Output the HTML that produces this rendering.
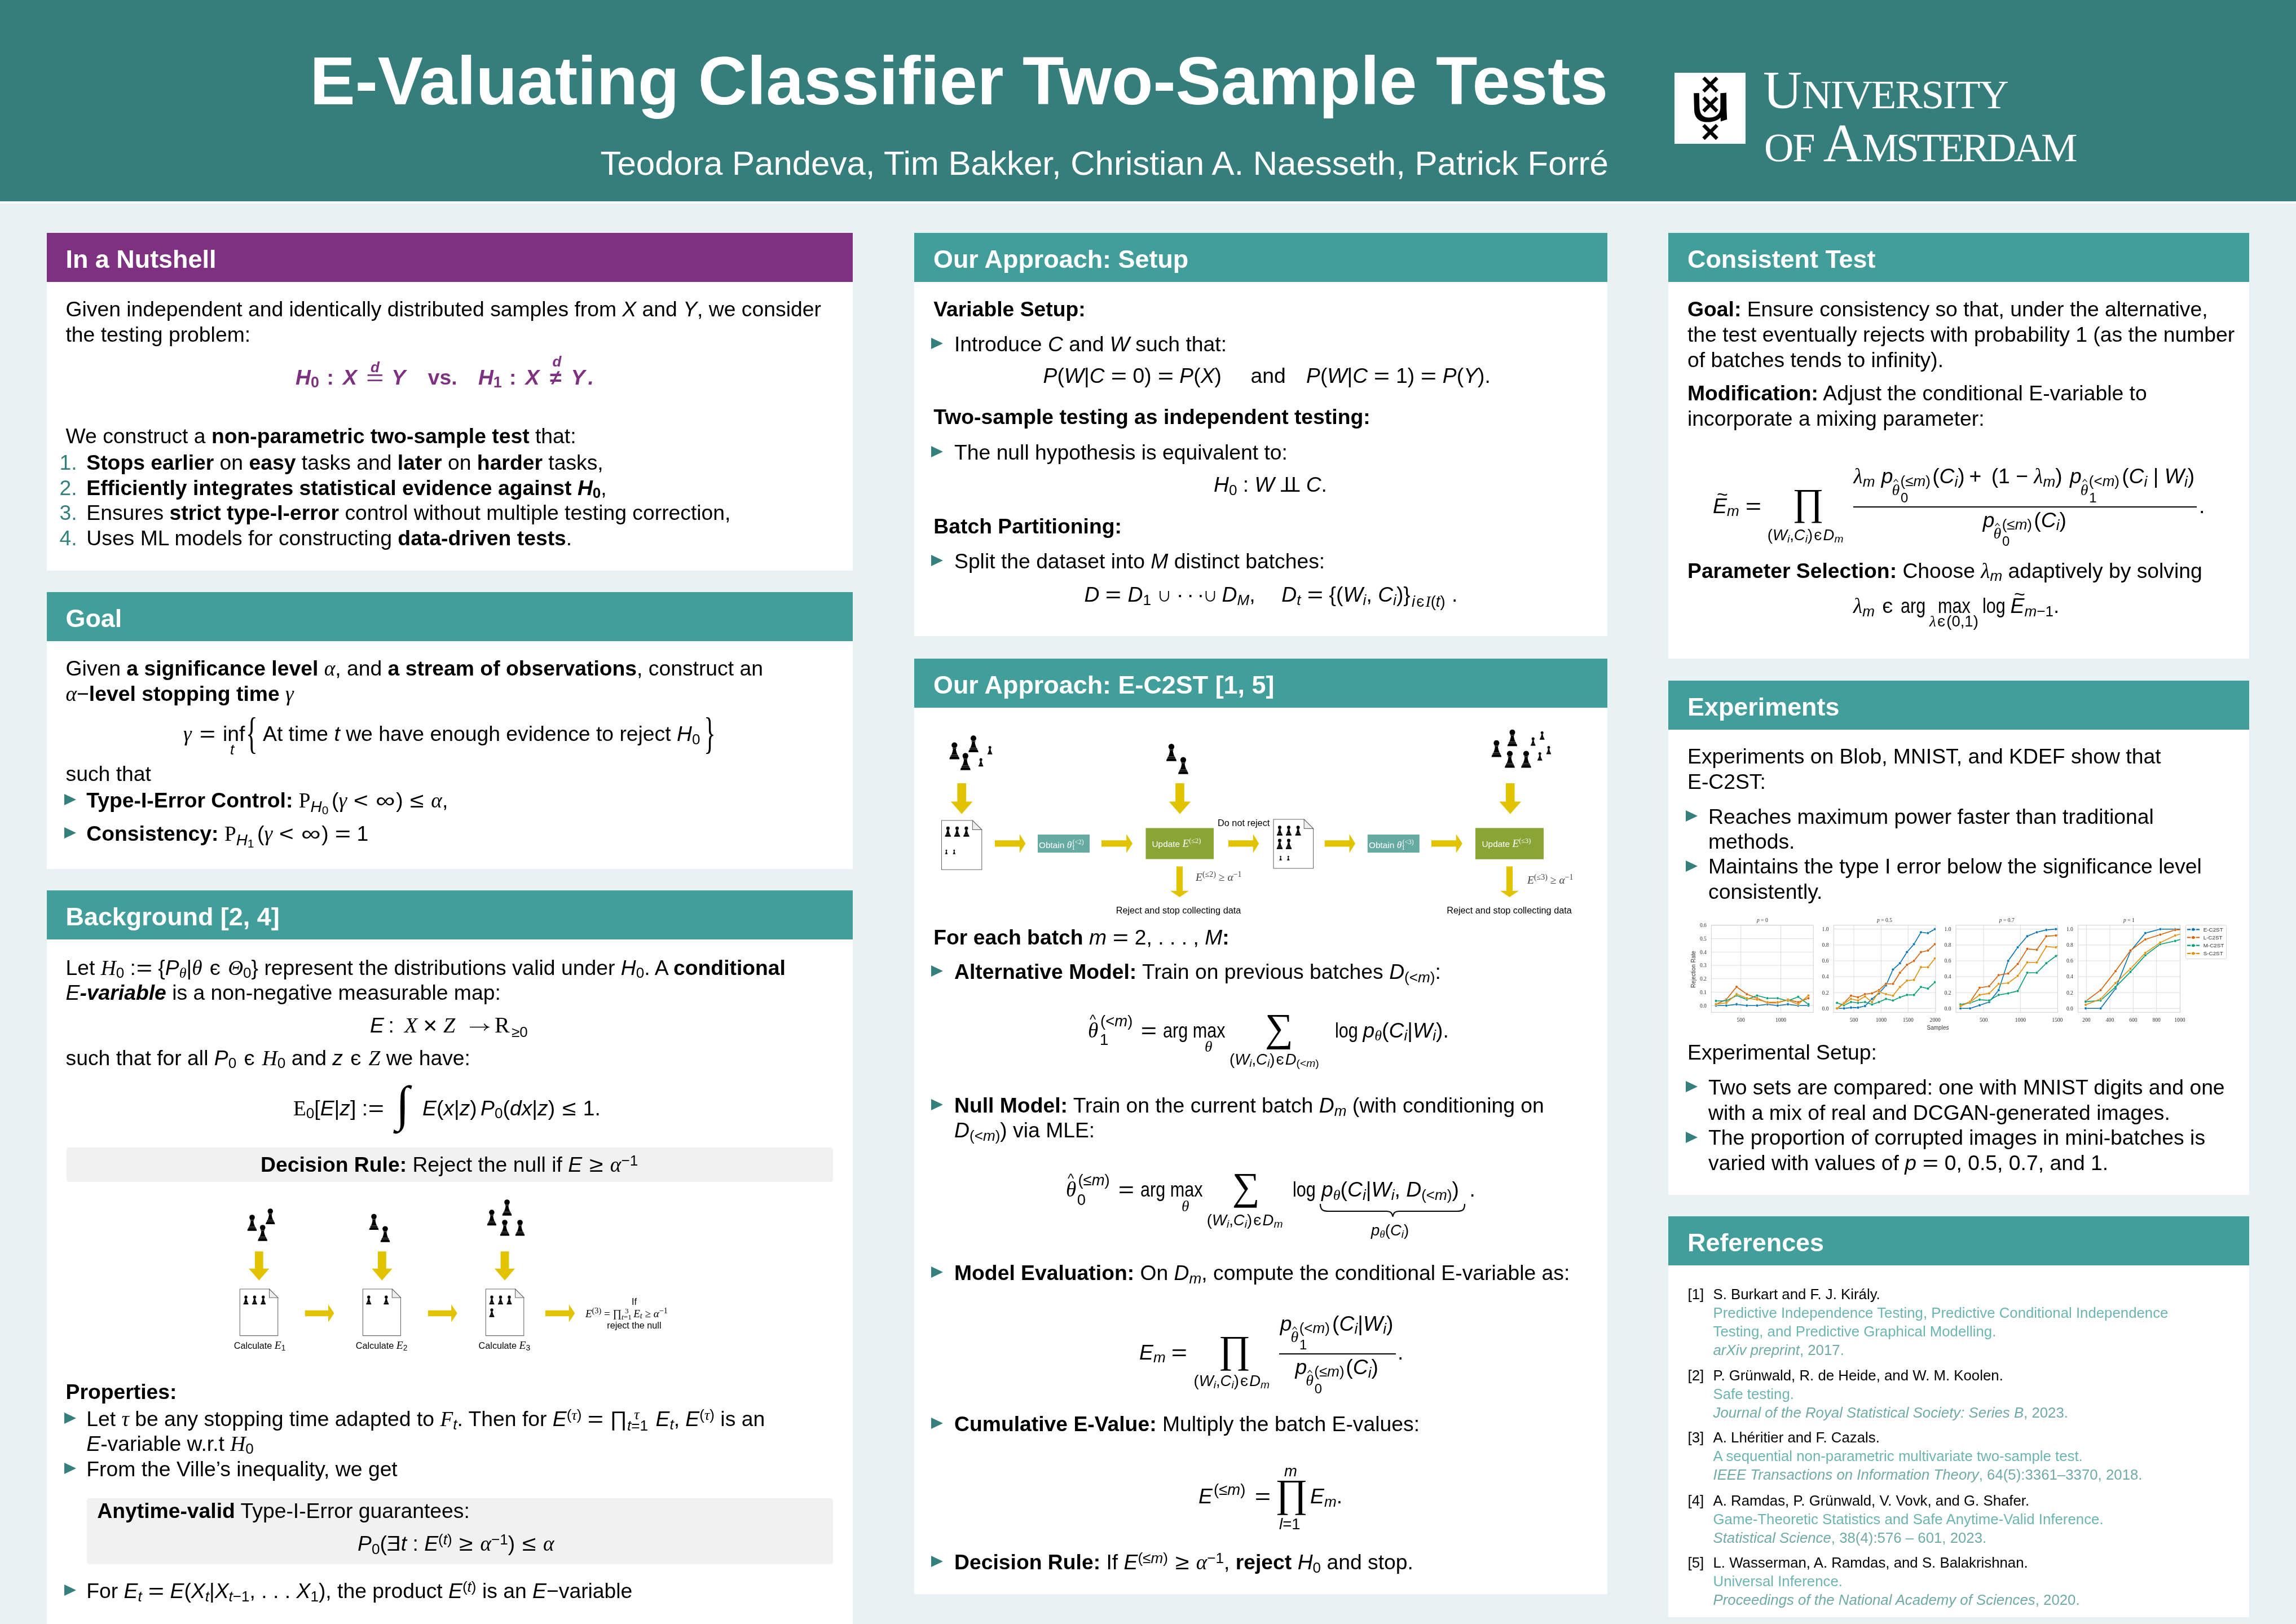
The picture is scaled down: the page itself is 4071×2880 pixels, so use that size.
<!DOCTYPE html>
<html><head><meta charset="utf-8"><title>E-Valuating Classifier Two-Sample Tests</title>
<style>
*{margin:0;padding:0;box-sizing:border-box}
html,body{width:4071px;height:2880px;overflow:hidden;background:#e9f2f3}
body{position:relative;font-family:'Liberation Sans',sans-serif;color:#000}
.t{position:absolute;white-space:nowrap;line-height:0}
/*AAFIX*/#wrap{position:absolute;left:0;top:0;width:4071px;height:2880px;will-change:transform}
.t i{font-style:italic}
.g{font-family:'Liberation Serif',serif;font-style:italic}
.gr{font-family:'Liberation Serif',serif}
.ss{position:relative;line-height:0}
.el{display:inline-block;transform:scale(0.85,0.85);line-height:0}
.rel{display:inline-block;text-align:center;line-height:0}
.rel>span{display:inline-block;line-height:0}
.un{display:inline-block;transform:scaleY(-1);transform-origin:50% 0.095em;line-height:0}
.ind{display:inline-block;transform:scaleY(-1);line-height:0}
.cal{font-family:'Liberation Serif',serif;font-style:italic}
.bb{font-family:'Liberation Serif',serif}
.op{display:inline-block;transform:scaleX(0.82);transform-origin:0 0;line-height:0}
svg{position:absolute;overflow:visible}
</style></head>
<body><div id="wrap">
<div style="position:absolute;left:0.0px;top:0.0px;width:4071.0px;height:357.0px;background:#357e7c;"></div>
<div style="position:absolute;left:0.0px;top:357.0px;width:4071.0px;height:4.0px;background:#ffffff;"></div>
<div class="t" style="left:549.4px;top:143.0px;font-size:120.3px;font-weight:bold;color:#fff">E-Valuating Classifier Two-Sample Tests</div>
<div class="t" style="left:1064.5px;top:290.0px;font-size:60px;color:#fff">Teodora Pandeva, Tim Bakker, Christian A. Naesseth, Patrick Forré</div>
<div style="position:absolute;left:2969.0px;top:129.0px;width:126.0px;height:126.0px;background:#ffffff;"></div>
<svg style="left:2969px;top:128.7px" width="126.5" height="126.5" viewBox="0 0 126.5 126.5"><line x1="51.5" y1="9.0" x2="75.5" y2="33.0" stroke="#000" stroke-width="6.4"/><line x1="51.5" y1="33.0" x2="75.5" y2="9.0" stroke="#000" stroke-width="6.4"/><line x1="51.5" y1="44.2" x2="75.5" y2="68.2" stroke="#000" stroke-width="6.4"/><line x1="51.5" y1="68.2" x2="75.5" y2="44.2" stroke="#000" stroke-width="6.4"/><line x1="51.5" y1="92.9" x2="75.5" y2="116.9" stroke="#000" stroke-width="6.4"/><line x1="51.5" y1="116.9" x2="75.5" y2="92.9" stroke="#000" stroke-width="6.4"/><path d="M34.2,36.2 L43.8,36.0 L44.3,60 C44.6,73 50,79.5 61,79.6 C73,79.7 80.5,74 81.4,63 L81.4,36.2 L92,35.6 L92.4,66 L93.2,82.8 L81.9,86.6 L81.8,79.5 C76,85 68,87.6 58,87.6 C44,87.6 35,80 35,65 Z" fill="#000"/></svg>
<div class="t" style="left:3126.0px;top:159.7px;font-size:95.9px;font-family:'Liberation Serif';color:#fff">U<span style="font-size:72.5px;letter-spacing:-2px">NIVERSITY</span></div>
<div class="t" style="left:3128.0px;top:253.5px;font-size:95.9px;font-family:'Liberation Serif';color:#fff"><span style="font-size:72.5px;letter-spacing:-2px">OF </span>A<span style="font-size:72.5px;letter-spacing:-4.2px">MSTERDAM</span></div>
<div style="position:absolute;left:82.5px;top:413.0px;width:1429.5px;height:599.0px;background:#fff;"></div>
<div style="position:absolute;left:82.5px;top:413.0px;width:1429.5px;height:87.0px;background:#7e3180;"></div>
<div class="t" style="left:116.5px;top:460.0px;font-size:44.9px;font-weight:bold;color:#fff">In a Nutshell</div>
<div style="position:absolute;left:82.5px;top:1050.0px;width:1429.5px;height:491.0px;background:#fff;"></div>
<div style="position:absolute;left:82.5px;top:1050.0px;width:1429.5px;height:87.0px;background:#429e9b;"></div>
<div class="t" style="left:116.5px;top:1097.0px;font-size:44.9px;font-weight:bold;color:#fff">Goal</div>
<div style="position:absolute;left:82.5px;top:1579.0px;width:1429.5px;height:1301.0px;background:#fff;"></div>
<div style="position:absolute;left:82.5px;top:1579.0px;width:1429.5px;height:87.0px;background:#429e9b;"></div>
<div class="t" style="left:116.5px;top:1626.0px;font-size:44.9px;font-weight:bold;color:#fff">Background [2, 4]</div>
<div style="position:absolute;left:1621.0px;top:413.0px;width:1229.0px;height:715.4px;background:#fff;"></div>
<div style="position:absolute;left:1621.0px;top:413.0px;width:1229.0px;height:87.0px;background:#429e9b;"></div>
<div class="t" style="left:1655.0px;top:460.0px;font-size:44.9px;font-weight:bold;color:#fff">Our Approach: Setup</div>
<div style="position:absolute;left:1621.0px;top:1168.0px;width:1229.0px;height:1659.0px;background:#fff;"></div>
<div style="position:absolute;left:1621.0px;top:1168.0px;width:1229.0px;height:87.0px;background:#429e9b;"></div>
<div class="t" style="left:1655.0px;top:1215.0px;font-size:44.9px;font-weight:bold;color:#fff">Our Approach: E-C2ST [1, 5]</div>
<div style="position:absolute;left:2958.0px;top:413.0px;width:1030.0px;height:755.0px;background:#fff;"></div>
<div style="position:absolute;left:2958.0px;top:413.0px;width:1030.0px;height:87.0px;background:#429e9b;"></div>
<div class="t" style="left:2992.0px;top:460.0px;font-size:44.9px;font-weight:bold;color:#fff">Consistent Test</div>
<div style="position:absolute;left:2958.0px;top:1206.7px;width:1030.0px;height:912.8px;background:#fff;"></div>
<div style="position:absolute;left:2958.0px;top:1206.7px;width:1030.0px;height:87.0px;background:#429e9b;"></div>
<div class="t" style="left:2992.0px;top:1253.7px;font-size:44.9px;font-weight:bold;color:#fff">Experiments</div>
<div style="position:absolute;left:2958.0px;top:2157.4px;width:1030.0px;height:710.4px;background:#fff;"></div>
<div style="position:absolute;left:2958.0px;top:2157.4px;width:1030.0px;height:87.0px;background:#429e9b;"></div>
<div class="t" style="left:2992.0px;top:2204.4px;font-size:44.9px;font-weight:bold;color:#fff">References</div>
<div class="t" style="left:116.5px;top:548.4px;font-size:37.3px;">Given independent and identically distributed samples from <i>X</i> and <i>Y</i>, we consider</div>
<div class="t" style="left:116.5px;top:593.0px;font-size:37.3px;">the testing problem:</div>
<div class="t" style="left:524.0px;top:669.0px;font-size:37.3px;font-weight:bold;font-style:italic;color:#7e3180">H<span class="ss" style="top:0.2em;font-size:72%"><span style="font-style:normal">0</span></span></div>
<div class="t" style="left:579.5px;top:669.0px;font-size:37.3px;font-weight:bold;color:#7e3180">:</div>
<div class="t" style="left:608.0px;top:669.0px;font-size:37.3px;font-weight:bold;font-style:italic;color:#7e3180">X</div>
<div class="t" style="left:649.0px;top:669.0px;font-size:37.3px;color:#7e3180;"><span style="display:inline-block;transform:scaleX(1.45);transform-origin:0 0;line-height:0">=</span></div>
<div class="t" style="left:657.0px;top:651.0px;font-size:26px;font-weight:bold;font-style:italic;color:#7e3180">d</div>
<div class="t" style="left:694.3px;top:669.0px;font-size:37.3px;font-weight:bold;font-style:italic;color:#7e3180">Y</div>
<div class="t" style="left:758.7px;top:669.0px;font-size:37.3px;font-weight:bold;color:#7e3180">vs.</div>
<div class="t" style="left:847.9px;top:669.0px;font-size:37.3px;font-weight:bold;font-style:italic;color:#7e3180">H<span class="ss" style="top:0.2em;font-size:72%"><span style="font-style:normal">1</span></span></div>
<div class="t" style="left:903.0px;top:669.0px;font-size:37.3px;font-weight:bold;color:#7e3180">:</div>
<div class="t" style="left:931.5px;top:669.0px;font-size:37.3px;font-weight:bold;font-style:italic;color:#7e3180">X</div>
<div class="t" style="left:974.9px;top:669.0px;font-size:37.3px;font-weight:bold;color:#7e3180">≠</div>
<div class="t" style="left:979.5px;top:641.0px;font-size:26px;font-weight:bold;font-style:italic;color:#7e3180">d</div>
<div class="t" style="left:1012.6px;top:669.0px;font-size:37.3px;font-weight:bold;font-style:italic;color:#7e3180">Y</div>
<div class="t" style="left:1042.5px;top:669.0px;font-size:37.3px;font-weight:bold;font-style:italic;color:#7e3180">.</div>
<div class="t" style="left:116.5px;top:772.7px;font-size:37.3px;">We construct a <b>non-parametric two-sample test</b> that:</div>
<div class="t" style="left:105.6px;top:819.8px;font-size:37.3px;color:#35807c">1.</div>
<div class="t" style="left:153.3px;top:819.8px;font-size:37.3px;"><b>Stops earlier</b> on <b>easy</b> tasks and <b>later</b> on <b>harder</b> tasks,</div>
<div class="t" style="left:105.6px;top:864.5px;font-size:37.3px;color:#35807c">2.</div>
<div class="t" style="left:153.3px;top:864.5px;font-size:37.3px;"><b>Efficiently integrates statistical evidence against <i>H</i><span class="ss" style="top:0.22em;font-size:70%">0</span></b>,</div>
<div class="t" style="left:105.6px;top:909.2px;font-size:37.3px;color:#35807c">3.</div>
<div class="t" style="left:153.3px;top:909.2px;font-size:37.3px;">Ensures <b>strict type-I-error</b> control without multiple testing correction,</div>
<div class="t" style="left:105.6px;top:953.9px;font-size:37.3px;color:#35807c">4.</div>
<div class="t" style="left:153.3px;top:953.9px;font-size:37.3px;">Uses ML models for constructing <b>data-driven tests</b>.</div>
<div class="t" style="left:116.5px;top:1185.0px;font-size:37.3px;">Given <b>a significance level</b> <span class="g">α</span>, and <b>a stream of observations</b>, construct an</div>
<div class="t" style="left:116.5px;top:1230.0px;font-size:37.3px;"><span class="g">α</span>−<b>level stopping time</b> <span class="g">γ</span></div>
<div class="t" style="left:325.0px;top:1301.4px;font-size:37.3px;"><span class="g">γ</span></div>
<div class="t" style="left:353.0px;top:1301.4px;font-size:37.3px;"><span class="rel" style="width:0.778em;"><span style="transform:scaleX(1.3);">=</span></span></div>
<div class="t" style="left:395.0px;top:1301.4px;font-size:37.3px;">inf</div>
<div class="t" style="left:408.0px;top:1329.0px;font-size:26px;"><i>t</i></div>
<div class="t" style="left:436.0px;top:1301.0px;font-size:78.33px;font-family:'Liberation Serif';transform:scaleX(0.55);transform-origin:left center;font-weight:normal">{</div>
<div class="t" style="left:466.0px;top:1301.4px;font-size:37.3px;">At time <i>t</i> we have enough evidence to reject <i>H</i><span class="ss" style="top:0.22em;font-size:70%">0</span></div>
<div class="t" style="left:1248.0px;top:1301.0px;font-size:78.33px;font-family:'Liberation Serif';transform:scaleX(0.55);transform-origin:left center">}</div>
<div class="t" style="left:116.5px;top:1372.0px;font-size:37.3px;">such that</div>
<div style="position:absolute;left:113.5px;top:1408.3px;width:0;height:0;border-left:21.4px solid #35807c;border-top:10.30px solid transparent;border-bottom:10.30px solid transparent"></div>
<div class="t" style="left:153.3px;top:1418.9px;font-size:37.3px;"><b>Type-I-Error Control:</b> <span class="bb">P</span><span class="ss" style="top:0.3em;font-size:75%"><i>H</i><span class="ss" style="top:0.2em;font-size:75%">0</span></span><span style="display:inline-block;width:0.15em"></span>(<span class="g">γ</span> <span class="rel" style="width:0.778em;"><span style="transform:scaleX(1.2);">&lt;</span></span> <span class="rel" style="width:1.0em;"><span style="transform:scaleX(1.3);">∞</span></span>) <span class="rel" style="width:0.778em;"><span style="transform:scaleX(1.2);">≤</span></span> <span class="g">α</span>,</div>
<div style="position:absolute;left:113.5px;top:1466.9px;width:0;height:0;border-left:21.4px solid #35807c;border-top:10.30px solid transparent;border-bottom:10.30px solid transparent"></div>
<div class="t" style="left:153.3px;top:1477.5px;font-size:37.3px;"><b>Consistency:</b> <span class="bb">P</span><span class="ss" style="top:0.3em;font-size:75%"><i>H</i><span class="ss" style="top:0.2em;font-size:75%">1</span></span><span style="display:inline-block;width:0.15em"></span>(<span class="g">γ</span> <span class="rel" style="width:0.778em;"><span style="transform:scaleX(1.2);">&lt;</span></span> <span class="rel" style="width:1.0em;"><span style="transform:scaleX(1.3);">∞</span></span>) <span class="rel" style="width:0.778em;"><span style="transform:scaleX(1.3);">=</span></span> 1</div>
<div class="t" style="left:116.5px;top:1715.5px;font-size:37.3px;">Let <span class="cal">H</span><span class="ss" style="top:0.22em;font-size:70%">0</span> :<span class="rel" style="width:0.778em;"><span style="transform:scaleX(1.3);">=</span></span> {<i>P</i><span class="ss" style="top:0.22em;font-size:70%"><span class="g">θ</span></span>|<span class="g">θ</span> <span class="rel" style="width:0.667em;"><span style="transform:scaleX(1.0);">є</span></span> <span class="g">Θ</span><span class="ss" style="top:0.22em;font-size:70%">0</span>} represent the distributions valid under <i>H</i><span class="ss" style="top:0.22em;font-size:70%">0</span>. A <b>conditional</b></div>
<div class="t" style="left:116.5px;top:1760.0px;font-size:37.3px;"><i>E</i><b><i>-variable</i></b> is a non-negative measurable map:</div>
<div class="t" style="left:656.0px;top:1818.0px;font-size:37.3px;"><i>E</i></div>
<div class="t" style="left:688.6px;top:1818.0px;font-size:37.3px;">:</div>
<div class="t" style="left:717.0px;top:1818.0px;font-size:38px;font-family:'Liberation Serif';font-style:italic">X</div>
<div class="t" style="left:752.0px;top:1818.0px;font-size:37.3px;"><span style="display:inline-block;transform:scale(1.15);line-height:0">×</span></div>
<div class="t" style="left:786.0px;top:1818.0px;font-size:38px;font-family:'Liberation Serif';font-style:italic">Z</div>
<svg style="left:0;top:0" width="4071" height="2880"><path d="M833,1821.5 L865,1821.5 M858.5,1815.5 Q861,1820 866,1821.5 Q861,1823 858.5,1827.5" fill="none" stroke="#000" stroke-width="1.7"/></svg>
<div class="t" style="left:877.0px;top:1818.0px;font-size:40px;font-family:'Liberation Serif';">R</div>
<div class="t" style="left:907.0px;top:1830.0px;font-size:26px;">≥0</div>
<div class="t" style="left:116.5px;top:1875.5px;font-size:37.3px;">such that for all <i>P</i><span class="ss" style="top:0.22em;font-size:70%">0</span> <span class="rel" style="width:0.667em;"><span style="transform:scaleX(1.0);">є</span></span> <span class="cal">H</span><span class="ss" style="top:0.22em;font-size:70%">0</span> and <i>z</i> <span class="rel" style="width:0.667em;"><span style="transform:scaleX(1.0);">є</span></span> <span class="cal">Z</span> we have:</div>
<div class="t" style="left:520.0px;top:1964.6px;font-size:37.3px;"><span class="bb">E</span><span class="ss" style="top:0.22em;font-size:70%">0</span>[<i>E</i>|<i>z</i>] :<span class="rel" style="width:0.778em;"><span style="transform:scaleX(1.3);">=</span></span></div>
<div class="t" style="left:702.0px;top:1958.3px;font-size:88px;font-family:'Liberation Serif';font-style:italic">∫</div>
<div class="t" style="left:749.0px;top:1964.6px;font-size:37.3px;"><i>E</i>(<i>x</i>|<i>z</i>)<span style="display:inline-block;width:0.17em"></span><i>P</i><span class="ss" style="top:0.22em;font-size:70%">0</span>(<i>dx</i>|<i>z</i>) <span class="rel" style="width:0.778em;"><span style="transform:scaleX(1.2);">≤</span></span> 1.</div>
<div style="position:absolute;left:117.8px;top:2035.0px;width:1359.2px;height:60.7px;background:#f1f1f1;border-radius:4.5px"></div>
<div class="t" style="left:462.0px;top:2064.5px;font-size:37.3px;"><b>Decision Rule:</b> Reject the null if <i>E</i> <span class="rel" style="width:0.778em;"><span style="transform:scaleX(1.2);">≥</span></span> <span class="g">α</span><span class="ss" style="top:-0.42em;font-size:70%">−1</span></div>
<svg width="0" height="0" style="position:absolute;left:0;top:0"><defs><symbol id="pawn" viewBox="0 0 18 30" overflow="visible"><circle cx="9" cy="5" r="5.1" fill="#000"/><path d="M5.6,9.6 L12.4,9.6 L12.4,11.2 L11.5,11.2 C11.9,15 12.8,18.5 14.2,21.4 L14.8,22.9 L15.8,23.2 L15.8,24.4 L15.4,25.1 C16.9,25.6 17.6,26.8 17.8,30 L0.2,30 C0.4,26.8 1.1,25.6 2.6,25.1 L2.2,24.4 L2.2,23.2 L3.2,22.9 L3.8,21.4 C5.2,18.5 6.1,15 6.5,11.2 L5.6,11.2 Z" fill="#000"/><rect x="5.9" y="9.9" width="6.2" height="1.0" fill="#6a6a6a"/><rect x="3.6" y="21.6" width="10.8" height="0.9" fill="#6a6a6a"/><rect x="2.6" y="24.2" width="12.8" height="0.8" fill="#6a6a6a"/></symbol></defs></svg>
<svg style="left:0;top:0" width="4071" height="2880"><use href="#pawn" x="438.47" y="2154.26" width="17.06" height="28.44"/><use href="#pawn" x="470.98" y="2143.28" width="16.63" height="27.72"/><use href="#pawn" x="457.17" y="2172.26" width="17.06" height="28.44"/><use href="#pawn" x="654.54" y="2152.80" width="16.92" height="28.20"/><use href="#pawn" x="674.50" y="2174.48" width="16.99" height="28.32"/><use href="#pawn" x="863.51" y="2145.34" width="16.78" height="27.96"/><use href="#pawn" x="890.47" y="2127.26" width="17.06" height="28.44"/><use href="#pawn" x="886.54" y="2163.30" width="16.92" height="28.20"/><use href="#pawn" x="913.54" y="2163.30" width="16.92" height="28.20"/><path d="M451.90,2219.30 L466.70,2219.30 L466.70,2249.80 L477.40,2249.80 L459.30,2270.70 L441.20,2249.80 L451.90,2249.80 Z" fill="#e2c300"/><path d="M670.00,2219.30 L684.80,2219.30 L684.80,2249.80 L695.50,2249.80 L677.40,2270.70 L659.30,2249.80 L670.00,2249.80 Z" fill="#e2c300"/><path d="M887.60,2219.30 L902.40,2219.30 L902.40,2249.80 L913.10,2249.80 L895.00,2270.70 L876.90,2249.80 L887.60,2249.80 Z" fill="#e2c300"/><path d="M425.30,2286.00 L477.50,2286.00 L492.70,2301.20 L492.70,2368.60 L425.30,2368.60 Z" fill="#fff" stroke="#6b6b6b" stroke-width="1.1"/><path d="M477.50,2286.00 L477.50,2301.20 L492.70,2301.20 Z" fill="#eeeeee" stroke="#6b6b6b" stroke-width="1.1"/><path d="M643.40,2286.00 L695.30,2286.00 L710.50,2301.20 L710.50,2368.60 L643.40,2368.60 Z" fill="#fff" stroke="#6b6b6b" stroke-width="1.1"/><path d="M695.30,2286.00 L695.30,2301.20 L710.50,2301.20 Z" fill="#eeeeee" stroke="#6b6b6b" stroke-width="1.1"/><path d="M861.30,2286.00 L913.60,2286.00 L928.80,2301.20 L928.80,2368.60 L861.30,2368.60 Z" fill="#fff" stroke="#6b6b6b" stroke-width="1.1"/><path d="M913.60,2286.00 L913.60,2301.20 L928.80,2301.20 Z" fill="#eeeeee" stroke="#6b6b6b" stroke-width="1.1"/><use href="#pawn" x="431.28" y="2297.58" width="9.43" height="15.72"/><use href="#pawn" x="446.68" y="2297.58" width="9.43" height="15.72"/><use href="#pawn" x="461.98" y="2297.58" width="9.43" height="15.72"/><use href="#pawn" x="649.08" y="2297.58" width="9.43" height="15.72"/><use href="#pawn" x="680.08" y="2297.58" width="9.43" height="15.72"/><use href="#pawn" x="867.28" y="2297.58" width="9.43" height="15.72"/><use href="#pawn" x="882.78" y="2297.58" width="9.43" height="15.72"/><use href="#pawn" x="898.28" y="2297.58" width="9.43" height="15.72"/><use href="#pawn" x="867.32" y="2320.20" width="9.36" height="15.60"/><path d="M540.80,2323.75 L582.00,2323.75 L582.00,2313.35 L592.50,2329.00 L582.00,2344.65 L582.00,2334.25 L540.80,2334.25 Z" fill="#e2c300"/><path d="M759.00,2323.75 L800.20,2323.75 L800.20,2313.35 L810.70,2329.00 L800.20,2344.65 L800.20,2334.25 L759.00,2334.25 Z" fill="#e2c300"/><path d="M967.00,2323.75 L1008.80,2323.75 L1008.80,2313.35 L1019.30,2329.00 L1008.80,2344.65 L1008.80,2334.25 L967.00,2334.25 Z" fill="#e2c300"/></svg>
<div class="t" style="left:414.8px;top:2385.8px;font-size:16.2px;">Calculate <span class="g" style="font-size:120%">E</span><span class="ss" style="top:0.2em;font-size:85%">1</span></div>
<div class="t" style="left:630.8px;top:2385.8px;font-size:16.2px;">Calculate <span class="g" style="font-size:120%">E</span><span class="ss" style="top:0.2em;font-size:85%">2</span></div>
<div class="t" style="left:848.6px;top:2385.8px;font-size:16.2px;">Calculate <span class="g" style="font-size:120%">E</span><span class="ss" style="top:0.2em;font-size:85%">3</span></div>
<div class="t" style="left:-375.6px;width:3000px;text-align:center;top:2308.0px;font-size:16.2px;">If</div>
<div class="t" style="left:1038.0px;top:2329.6px;font-size:19px;font-family:'Liberation Serif';"><span class="g">E</span><span class="ss" style="top:-0.45em;font-size:75%">(3)</span> = ∏<span class="ss" style="top:0.35em;font-size:70%"><i>t</i>=1</span><span class="ss" style="top:-0.5em;font-size:70%;margin-left:-0.9em">3</span><span style="display:inline-block;width:0.45em"></span><span class="g">E</span><span class="ss" style="top:0.2em;font-size:75%"><i>t</i></span> ≥ <span class="g">α</span><span class="ss" style="top:-0.45em;font-size:75%">−1</span></div>
<div class="t" style="left:-375.6px;width:3000px;text-align:center;top:2350.0px;font-size:16.2px;">reject the null</div>
<div class="t" style="left:116.5px;top:2468.0px;font-size:37.3px;"><b>Properties:</b></div>
<div style="position:absolute;left:113.5px;top:2505.4px;width:0;height:0;border-left:21.4px solid #35807c;border-top:10.30px solid transparent;border-bottom:10.30px solid transparent"></div>
<div class="t" style="left:153.3px;top:2516.0px;font-size:37.3px;">Let <span class="g">τ</span> be any stopping time adapted to <span class="cal">F</span><span class="ss" style="top:0.22em;font-size:70%"><i>t</i></span>. Then for <i>E</i><span class="ss" style="top:-0.42em;font-size:70%">(<span class="g">τ</span>)</span> <span class="rel" style="width:0.778em;"><span style="transform:scaleX(1.3);">=</span></span> ∏<span class="ss" style="top:0.3em;font-size:70%"><i>t</i>=1</span><span class="ss" style="top:-0.45em;font-size:70%;margin-left:-0.95em"><span class="g">τ</span></span><span style="display:inline-block;width:0.5em"></span> <i>E</i><span class="ss" style="top:0.22em;font-size:70%"><i>t</i></span>, <i>E</i><span class="ss" style="top:-0.42em;font-size:70%">(<span class="g">τ</span>)</span> is an</div>
<div class="t" style="left:153.3px;top:2559.6px;font-size:37.3px;"><i>E</i>-variable w.r.t <span class="cal">H</span><span class="ss" style="top:0.22em;font-size:70%">0</span></div>
<div style="position:absolute;left:113.5px;top:2594.4px;width:0;height:0;border-left:21.4px solid #35807c;border-top:10.30px solid transparent;border-bottom:10.30px solid transparent"></div>
<div class="t" style="left:153.3px;top:2605.0px;font-size:37.3px;">From the Ville’s inequality, we get</div>
<div style="position:absolute;left:153.6px;top:2656.7px;width:1323.4px;height:117.3px;background:#f1f1f1;border-radius:4.5px"></div>
<div class="t" style="left:172.3px;top:2679.0px;font-size:37.3px;"><b>Anytime-valid</b> Type-I-Error guarantees:</div>
<div class="t" style="left:634.0px;top:2737.0px;font-size:37.3px;"><i>P</i><span class="ss" style="top:0.22em;font-size:70%">0</span>(Ǝ<i>t</i> : <i>E</i><span class="ss" style="top:-0.42em;font-size:70%">(<i>t</i>)</span> <span class="rel" style="width:0.778em;"><span style="transform:scaleX(1.2);">≥</span></span> <span class="g">α</span><span class="ss" style="top:-0.42em;font-size:70%">−1</span>) <span class="rel" style="width:0.778em;"><span style="transform:scaleX(1.2);">≤</span></span> <span class="g">α</span></div>
<div style="position:absolute;left:113.5px;top:2810.4px;width:0;height:0;border-left:21.4px solid #35807c;border-top:10.30px solid transparent;border-bottom:10.30px solid transparent"></div>
<div class="t" style="left:153.3px;top:2821.0px;font-size:37.3px;">For <i>E</i><span class="ss" style="top:0.22em;font-size:70%"><i>t</i></span> <span class="rel" style="width:0.778em;"><span style="transform:scaleX(1.3);">=</span></span> <i>E</i>(<i>X</i><span class="ss" style="top:0.22em;font-size:70%"><i>t</i></span>|<i>X</i><span class="ss" style="top:0.22em;font-size:70%"><i>t</i>−1</span>, . . . <i>X</i><span class="ss" style="top:0.22em;font-size:70%">1</span>), the product <i>E</i><span class="ss" style="top:-0.42em;font-size:70%">(<i>t</i>)</span> is an <i>E</i>−variable</div>
<div class="t" style="left:1655.3px;top:548.3px;font-size:37.3px;"><b>Variable Setup:</b></div>
<div style="position:absolute;left:1651.4px;top:599.4px;width:0;height:0;border-left:21.4px solid #35807c;border-top:10.30px solid transparent;border-bottom:10.30px solid transparent"></div>
<div class="t" style="left:1692.0px;top:610.0px;font-size:37.3px;">Introduce <i>C</i> and <i>W</i> such that:</div>
<div class="t" style="left:1849.5px;top:666.2px;font-size:37.3px;"><i>P</i>(<i>W</i>|<i>C</i> <span class="rel" style="width:0.778em;"><span style="transform:scaleX(1.3);">=</span></span> 0) <span class="rel" style="width:0.778em;"><span style="transform:scaleX(1.3);">=</span></span> <i>P</i>(<i>X</i>)</div>
<div class="t" style="left:2217.5px;top:666.2px;font-size:37.3px;">and</div>
<div class="t" style="left:2316.0px;top:666.2px;font-size:37.3px;"><i>P</i>(<i>W</i>|<i>C</i> <span class="rel" style="width:0.778em;"><span style="transform:scaleX(1.3);">=</span></span> 1) <span class="rel" style="width:0.778em;"><span style="transform:scaleX(1.3);">=</span></span> <i>P</i>(<i>Y</i>).</div>
<div class="t" style="left:1655.3px;top:739.0px;font-size:37.3px;"><b>Two-sample testing as independent testing:</b></div>
<div style="position:absolute;left:1651.4px;top:790.9px;width:0;height:0;border-left:21.4px solid #35807c;border-top:10.30px solid transparent;border-bottom:10.30px solid transparent"></div>
<div class="t" style="left:1692.0px;top:801.5px;font-size:37.3px;">The null hypothesis is equivalent to:</div>
<div class="t" style="left:2152.0px;top:859.0px;font-size:37.3px;"><i>H</i><span class="ss" style="top:0.22em;font-size:70%">0</span> : <i>W</i> <span class="ind">T</span><span class="ind" style="margin-left:-0.28em">T</span> <i>C</i>.</div>
<div class="t" style="left:1655.3px;top:932.6px;font-size:37.3px;"><b>Batch Partitioning:</b></div>
<div style="position:absolute;left:1651.4px;top:984.4px;width:0;height:0;border-left:21.4px solid #35807c;border-top:10.30px solid transparent;border-bottom:10.30px solid transparent"></div>
<div class="t" style="left:1692.0px;top:995.0px;font-size:37.3px;">Split the dataset into <i>M</i> distinct batches:</div>
<div class="t" style="left:1922.5px;top:1054.0px;font-size:37.3px;"><i>D</i></div>
<div class="t" style="left:1959.0px;top:1054.0px;font-size:37.3px;"><span class="rel" style="width:0.778em;"><span style="transform:scaleX(1.3);">=</span></span></div>
<div class="t" style="left:1999.5px;top:1054.0px;font-size:37.3px;"><i>D</i><span class="ss" style="top:0.22em;font-size:70%">1</span></div>
<div class="t" style="left:2051.0px;top:1054.0px;font-size:37.3px;"><span class="un">∩</span></div>
<div class="t" style="left:2086.0px;top:1054.0px;font-size:37.3px;"><span style="letter-spacing:0.16em">···</span></div>
<div class="t" style="left:2132.6px;top:1054.0px;font-size:37.3px;"><span class="un">∩</span></div>
<div class="t" style="left:2166.5px;top:1054.0px;font-size:37.3px;"><i>D</i><span class="ss" style="top:0.22em;font-size:70%"><i>M</i></span>,</div>
<div class="t" style="left:2272.3px;top:1054.0px;font-size:37.3px;"><i>D</i><span class="ss" style="top:0.22em;font-size:70%"><i>t</i></span></div>
<div class="t" style="left:2317.0px;top:1054.0px;font-size:37.3px;"><span class="rel" style="width:0.778em;"><span style="transform:scaleX(1.3);">=</span></span></div>
<div class="t" style="left:2356.5px;top:1054.0px;font-size:37.3px;">{(<i>W</i><span class="ss" style="top:0.22em;font-size:70%"><i>i</i></span>, <i>C</i><span class="ss" style="top:0.22em;font-size:70%"><i>i</i></span>)}</div>
<div class="t" style="left:2503.0px;top:1067.0px;font-size:27.5px;"><i>i</i><span class="rel" style="width:0.667em;"><span style="transform:scaleX(1.0);">є</span></span><span class="cal">I</span>(<i>t</i>)</div>
<div class="t" style="left:2574.0px;top:1054.0px;font-size:37.3px;">.</div>
<svg style="left:0;top:0" width="4071" height="2880"><use href="#pawn" x="1683.30" y="1316.50" width="18.00" height="30.00"/><use href="#pawn" x="1717.11" y="1304.36" width="17.78" height="29.64"/><use href="#pawn" x="1702.73" y="1335.46" width="18.14" height="30.24"/><use href="#pawn" x="1750.81" y="1323.16" width="8.78" height="14.64"/><use href="#pawn" x="1734.77" y="1344.54" width="8.86" height="14.76"/><use href="#pawn" x="2067.82" y="1319.20" width="18.36" height="30.60"/><use href="#pawn" x="2088.96" y="1342.58" width="18.07" height="30.12"/><use href="#pawn" x="2644.47" y="1312.74" width="17.86" height="29.76"/><use href="#pawn" x="2672.72" y="1293.92" width="17.57" height="29.28"/><use href="#pawn" x="2667.96" y="1331.48" width="18.07" height="30.12"/><use href="#pawn" x="2696.96" y="1331.48" width="18.07" height="30.12"/><use href="#pawn" x="2713.76" y="1307.48" width="9.07" height="15.12"/><use href="#pawn" x="2729.91" y="1297.06" width="8.78" height="14.64"/><use href="#pawn" x="2741.61" y="1322.96" width="8.78" height="14.64"/><use href="#pawn" x="2725.91" y="1334.06" width="8.78" height="14.64"/><path d="M1697.40,1389.00 L1713.00,1389.00 L1713.00,1421.50 L1724.60,1421.50 L1705.20,1443.50 L1685.80,1421.50 L1697.40,1421.50 Z" fill="#e2c300"/><path d="M2084.20,1389.00 L2099.80,1389.00 L2099.80,1421.50 L2111.40,1421.50 L2092.00,1443.50 L2072.60,1421.50 L2084.20,1421.50 Z" fill="#e2c300"/><path d="M2670.00,1389.00 L2685.60,1389.00 L2685.60,1421.50 L2697.20,1421.50 L2677.80,1443.50 L2658.40,1421.50 L2670.00,1421.50 Z" fill="#e2c300"/><path d="M2086.00,1536.50 L2097.00,1536.50 L2097.00,1579.80 L2108.00,1579.80 L2091.50,1591.00 L2075.00,1579.80 L2086.00,1579.80 Z" fill="#e2c300"/><path d="M2671.00,1536.50 L2682.00,1536.50 L2682.00,1579.80 L2693.00,1579.80 L2676.50,1591.00 L2660.00,1579.80 L2671.00,1579.80 Z" fill="#e2c300"/><path d="M1669.50,1455.00 L1724.40,1455.00 L1740.80,1471.40 L1740.80,1542.20 L1669.50,1542.20 Z" fill="#fff" stroke="#6b6b6b" stroke-width="1.1"/><path d="M1724.40,1455.00 L1724.40,1471.40 L1740.80,1471.40 Z" fill="#eeeeee" stroke="#6b6b6b" stroke-width="1.1"/><path d="M2258.00,1453.00 L2312.20,1453.00 L2328.60,1469.40 L2328.60,1540.00 L2258.00,1540.00 Z" fill="#fff" stroke="#6b6b6b" stroke-width="1.1"/><path d="M2312.20,1453.00 L2312.20,1469.40 L2328.60,1469.40 Z" fill="#eeeeee" stroke="#6b6b6b" stroke-width="1.1"/><use href="#pawn" x="1675.40" y="1465.80" width="10.80" height="18.00"/><use href="#pawn" x="1691.60" y="1465.80" width="10.80" height="18.00"/><use href="#pawn" x="1708.00" y="1465.80" width="10.80" height="18.00"/><use href="#pawn" x="1675.62" y="1506.88" width="4.75" height="7.92"/><use href="#pawn" x="1689.42" y="1506.88" width="4.75" height="7.92"/><use href="#pawn" x="2263.74" y="1464.28" width="10.51" height="17.52"/><use href="#pawn" x="2279.74" y="1464.28" width="10.51" height="17.52"/><use href="#pawn" x="2296.34" y="1464.28" width="10.51" height="17.52"/><use href="#pawn" x="2263.56" y="1487.58" width="10.87" height="18.12"/><use href="#pawn" x="2279.56" y="1487.58" width="10.87" height="18.12"/><use href="#pawn" x="2268.26" y="1517.90" width="4.68" height="7.80"/><use href="#pawn" x="2281.96" y="1517.90" width="4.68" height="7.80"/><path d="M1764.00,1490.30 L1807.70,1490.30 L1807.70,1479.10 L1818.50,1495.90 L1807.70,1512.70 L1807.70,1501.50 L1764.00,1501.50 Z" fill="#e2c300"/><path d="M1953.00,1490.30 L1997.20,1490.30 L1997.20,1479.10 L2008.00,1495.90 L1997.20,1512.70 L1997.20,1501.50 L1953.00,1501.50 Z" fill="#e2c300"/><path d="M2178.00,1490.30 L2221.80,1490.30 L2221.80,1479.10 L2232.20,1495.90 L2221.80,1512.70 L2221.80,1501.50 L2178.00,1501.50 Z" fill="#e2c300"/><path d="M2348.80,1490.30 L2392.50,1490.30 L2392.50,1479.10 L2403.00,1495.90 L2392.50,1512.70 L2392.50,1501.50 L2348.80,1501.50 Z" fill="#e2c300"/><path d="M2538.00,1490.30 L2581.80,1490.30 L2581.80,1479.10 L2593.00,1495.90 L2581.80,1512.70 L2581.80,1501.50 L2538.00,1501.50 Z" fill="#e2c300"/><rect x="1840" y="1480" width="92" height="32" fill="#66aba2"/><rect x="2424.8" y="1480" width="92" height="32" fill="#66aba2"/><rect x="2031.5" y="1468.5" width="120.5" height="55" fill="#88a536"/><rect x="2616" y="1468.4" width="121" height="55.4" fill="#88a536"/></svg>
<div class="t" style="left:1842.0px;top:1497.6px;font-size:15.4px;color:#fff">Obtain <span class="g" style="font-size:115%">θ</span><span class="ss" style="top:0.3em;font-size:75%;font-family:'Liberation Serif'">1</span><span class="ss" style="top:-0.55em;font-size:75%;margin-left:-0.38em;font-family:'Liberation Serif'">(&lt;2)</span></div>
<div class="t" style="left:2427.0px;top:1497.6px;font-size:15.4px;color:#fff">Obtain <span class="g" style="font-size:115%">θ</span><span class="ss" style="top:0.3em;font-size:75%;font-family:'Liberation Serif'">1</span><span class="ss" style="top:-0.55em;font-size:75%;margin-left:-0.38em;font-family:'Liberation Serif'">(&lt;3)</span></div>
<div class="t" style="left:2042.5px;top:1495.6px;font-size:15.4px;color:#fff">Update <span class="g" style="font-size:125%">E</span><span class="ss" style="top:-0.55em;font-size:80%;font-family:'Liberation Serif'">(≤2)</span></div>
<div class="t" style="left:2627.5px;top:1495.6px;font-size:15.4px;color:#fff">Update <span class="g" style="font-size:125%">E</span><span class="ss" style="top:-0.55em;font-size:80%;font-family:'Liberation Serif'">(≤3)</span></div>
<div class="t" style="left:2159.0px;top:1459.0px;font-size:16.3px;">Do not reject</div>
<div class="t" style="left:2120.0px;top:1556.0px;font-size:19.5px;font-family:'Liberation Serif';color:#444"><span class="g">E</span><span class="ss" style="top:-0.5em;font-size:72%">(≤2)</span> ≥ <span class="g">α</span><span class="ss" style="top:-0.5em;font-size:72%">−1</span></div>
<div class="t" style="left:2708.0px;top:1561.0px;font-size:19.5px;font-family:'Liberation Serif';color:#444"><span class="g">E</span><span class="ss" style="top:-0.5em;font-size:72%">(≤3)</span> ≥ <span class="g">α</span><span class="ss" style="top:-0.5em;font-size:72%">−1</span></div>
<div class="t" style="left:589.5px;width:3000px;text-align:center;top:1614.4px;font-size:16.3px;">Reject and stop collecting data</div>
<div class="t" style="left:1176.0px;width:3000px;text-align:center;top:1614.3px;font-size:16.3px;">Reject and stop collecting data</div>
<div class="t" style="left:1655.3px;top:1662.0px;font-size:37.3px;"><b>For each batch</b> <i>m</i> <span class="rel" style="width:0.778em;"><span style="transform:scaleX(1.3);">=</span></span> 2, . . . , <i>M</i><b>:</b></div>
<div style="position:absolute;left:1651.4px;top:1712.4px;width:0;height:0;border-left:21.4px solid #35807c;border-top:10.30px solid transparent;border-bottom:10.30px solid transparent"></div>
<div class="t" style="left:1692.0px;top:1723.0px;font-size:37.3px;"><b>Alternative Model:</b> Train on previous batches <i>D</i><span class="ss" style="top:0.22em;font-size:70%">(&lt;<i>m</i>)</span>:</div>
<div class="t" style="left:1929.0px;top:1826.5px;font-size:37.3px;"><span class="g">θ</span></div>
<div class="t" style="left:1932.0px;top:1807.5px;font-size:24px;">^</div>
<div class="t" style="left:1951.0px;top:1810.6px;font-size:27.5px;">(&lt;<i>m</i>)</div>
<div class="t" style="left:1950.0px;top:1844.0px;font-size:27.5px;">1</div>
<div class="t" style="left:2022.0px;top:1826.5px;font-size:37.3px;"><span class="rel" style="width:0.778em;"><span style="transform:scaleX(1.3);">=</span></span></div>
<div class="t" style="left:2061.6px;top:1826.5px;font-size:37.3px;"><span class="op">arg max</span></div>
<div class="t" style="left:2136.0px;top:1856.4px;font-size:27.5px;"><span class="g">θ</span></div>
<div class="t" style="left:2242.9px;top:1822.9px;font-size:70px;font-family:'Liberation Serif';">∑</div>
<div class="t" style="left:2180.0px;top:1879.2px;font-size:27.5px;">(<i>W</i><span class="ss" style="top:0.22em;font-size:70%"><i>i</i></span>,<i>C</i><span class="ss" style="top:0.22em;font-size:70%"><i>i</i></span>)<span class="rel" style="width:0.667em;"><span style="transform:scaleX(1.0);">є</span></span><i>D</i><span class="ss" style="top:0.22em;font-size:70%">(&lt;<i>m</i>)</span></div>
<div class="t" style="left:2367.0px;top:1826.5px;font-size:37.3px;"><span class="op">log</span></div>
<div class="t" style="left:2416.5px;top:1826.5px;font-size:37.3px;"><i>p</i><span class="ss" style="top:0.22em;font-size:70%"><span class="g">θ</span></span>(<i>C</i><span class="ss" style="top:0.22em;font-size:70%"><i>i</i></span>|<i>W</i><span class="ss" style="top:0.22em;font-size:70%"><i>i</i></span>).</div>
<div style="position:absolute;left:1651.4px;top:1949.4px;width:0;height:0;border-left:21.4px solid #35807c;border-top:10.30px solid transparent;border-bottom:10.30px solid transparent"></div>
<div class="t" style="left:1692.0px;top:1960.0px;font-size:37.3px;"><b>Null Model:</b> Train on the current batch <i>D</i><span class="ss" style="top:0.22em;font-size:70%"><i>m</i></span> (with conditioning on</div>
<div class="t" style="left:1692.0px;top:2004.0px;font-size:37.3px;"><i>D</i><span class="ss" style="top:0.22em;font-size:70%">(&lt;<i>m</i>)</span>) via MLE:</div>
<div class="t" style="left:1890.0px;top:2109.2px;font-size:37.3px;"><span class="g">θ</span></div>
<div class="t" style="left:1893.0px;top:2090.2px;font-size:24px;">^</div>
<div class="t" style="left:1911.4px;top:2093.0px;font-size:27.5px;">(≤<i>m</i>)</div>
<div class="t" style="left:1909.8px;top:2127.8px;font-size:27.5px;">0</div>
<div class="t" style="left:1982.0px;top:2109.2px;font-size:37.3px;"><span class="rel" style="width:0.778em;"><span style="transform:scaleX(1.3);">=</span></span></div>
<div class="t" style="left:2021.7px;top:2109.2px;font-size:37.3px;"><span class="op">arg max</span></div>
<div class="t" style="left:2095.0px;top:2138.7px;font-size:27.5px;"><span class="g">θ</span></div>
<div class="t" style="left:2184.7px;top:2104.4px;font-size:68.5px;font-family:'Liberation Serif';">∑</div>
<div class="t" style="left:2139.8px;top:2163.5px;font-size:27.5px;">(<i>W</i><span class="ss" style="top:0.22em;font-size:70%"><i>i</i></span>,<i>C</i><span class="ss" style="top:0.22em;font-size:70%"><i>i</i></span>)<span class="rel" style="width:0.667em;"><span style="transform:scaleX(1.0);">є</span></span><i>D</i><span class="ss" style="top:0.22em;font-size:70%"><i>m</i></span></div>
<div class="t" style="left:2291.5px;top:2109.2px;font-size:37.3px;"><span class="op">log</span></div>
<div class="t" style="left:2343.0px;top:2109.2px;font-size:37.3px;"><i>p</i><span class="ss" style="top:0.22em;font-size:70%"><span class="g">θ</span></span>(<i>C</i><span class="ss" style="top:0.22em;font-size:70%"><i>i</i></span>|<i>W</i><span class="ss" style="top:0.22em;font-size:70%"><i>i</i></span>, <i>D</i><span class="ss" style="top:0.22em;font-size:70%">(&lt;<i>m</i>)</span>)</div>
<div class="t" style="left:2605.5px;top:2109.2px;font-size:37.3px;">.</div>
<svg style="left:0;top:0" width="4071" height="2880"><path d="M2341,2135 C2341,2146 2346,2148 2356,2148 L2458,2148 C2466,2148 2468,2151 2469.5,2157.5 C2471,2151 2473,2148 2481,2148 L2583,2148 C2593,2148 2597,2146 2597,2135" fill="none" stroke="#000" stroke-width="2.2"/></svg>
<div class="t" style="left:2431.0px;top:2181.7px;font-size:27.5px;"><i>p</i><span class="ss" style="top:0.22em;font-size:70%"><span class="g">θ</span></span>(<i>C</i><span class="ss" style="top:0.22em;font-size:70%"><i>i</i></span>)</div>
<div style="position:absolute;left:1651.4px;top:2246.4px;width:0;height:0;border-left:21.4px solid #35807c;border-top:10.30px solid transparent;border-bottom:10.30px solid transparent"></div>
<div class="t" style="left:1692.0px;top:2257.0px;font-size:37.3px;"><b>Model Evaluation:</b> On <i>D</i><span class="ss" style="top:0.22em;font-size:70%"><i>m</i></span>, compute the conditional E-variable as:</div>
<div class="t" style="left:2020.0px;top:2397.6px;font-size:37.3px;"><i>E</i><span class="ss" style="top:0.22em;font-size:70%"><i>m</i></span></div>
<div class="t" style="left:2076.0px;top:2397.6px;font-size:37.3px;"><span class="rel" style="width:0.778em;"><span style="transform:scaleX(1.3);">=</span></span></div>
<div class="t" style="left:2160.5px;top:2393.2px;font-size:69px;font-family:'Liberation Serif';">∏</div>
<div class="t" style="left:2116.5px;top:2449.0px;font-size:27.5px;">(<i>W</i><span class="ss" style="top:0.22em;font-size:70%"><i>i</i></span>,<i>C</i><span class="ss" style="top:0.22em;font-size:70%"><i>i</i></span>)<span class="rel" style="width:0.667em;"><span style="transform:scaleX(1.0);">є</span></span><i>D</i><span class="ss" style="top:0.22em;font-size:70%"><i>m</i></span></div>
<div class="t" style="left:2269.8px;top:2346.7px;font-size:37.3px;"><i>p</i></div>
<div class="t" style="left:2288.6px;top:2370.8px;font-size:28px;"><span class="g">θ</span></div>
<svg style="left:2291.4px;top:2351.7px" width="10" height="7"><path d="M0.6,5.6 L4.5,1.2 L8.4,5.6" fill="none" stroke="#000" stroke-width="1.25"/></svg>
<div class="t" style="left:2303.7px;top:2354.8px;font-size:26px;">(&lt;<i>m</i>)</div>
<div class="t" style="left:2304.1px;top:2385.4px;font-size:24px;">1</div>
<div class="t" style="left:2362.1px;top:2346.7px;font-size:37.3px;">(<i>C</i><span class="ss" style="top:0.22em;font-size:70%"><i>i</i></span>|<i>W</i><span class="ss" style="top:0.22em;font-size:70%"><i>i</i></span>)</div>
<div style="position:absolute;left:2267.9px;top:2399.8px;width:206.9px;height:2.1px;background:#000;"></div>
<div class="t" style="left:2296.4px;top:2424.2px;font-size:37.3px;"><i>p</i></div>
<div class="t" style="left:2315.2px;top:2448.3px;font-size:28px;"><span class="g">θ</span></div>
<svg style="left:2318.0px;top:2429.2px" width="10" height="7"><path d="M0.6,5.6 L4.5,1.2 L8.4,5.6" fill="none" stroke="#000" stroke-width="1.25"/></svg>
<div class="t" style="left:2330.3px;top:2432.3px;font-size:26px;">(≤<i>m</i>)</div>
<div class="t" style="left:2330.7px;top:2462.9px;font-size:24px;">0</div>
<div class="t" style="left:2386.3px;top:2424.2px;font-size:37.3px;">(<i>C</i><span class="ss" style="top:0.22em;font-size:70%"><i>i</i></span>)</div>
<div class="t" style="left:2478.0px;top:2397.6px;font-size:37.3px;">.</div>
<div style="position:absolute;left:1651.4px;top:2514.4px;width:0;height:0;border-left:21.4px solid #35807c;border-top:10.30px solid transparent;border-bottom:10.30px solid transparent"></div>
<div class="t" style="left:1692.0px;top:2525.0px;font-size:37.3px;"><b>Cumulative E-Value:</b> Multiply the batch E-values:</div>
<div class="t" style="left:2125.0px;top:2652.8px;font-size:37.3px;"><i>E</i></div>
<div class="t" style="left:2152.0px;top:2641.8px;font-size:27.5px;">(≤<i>m</i>)</div>
<div class="t" style="left:2224.0px;top:2652.8px;font-size:37.3px;"><span class="rel" style="width:0.778em;"><span style="transform:scaleX(1.3);">=</span></span></div>
<div class="t" style="left:2261.0px;top:2648.5px;font-size:70px;font-family:'Liberation Serif';">∏</div>
<div class="t" style="left:2277.0px;top:2609.0px;font-size:27.5px;"><i>m</i></div>
<div class="t" style="left:2268.0px;top:2702.5px;font-size:27.5px;"><i>l</i>=1</div>
<div class="t" style="left:2323.0px;top:2652.8px;font-size:37.3px;"><i>E</i><span class="ss" style="top:0.22em;font-size:70%"><i>m</i></span>.</div>
<div style="position:absolute;left:1651.4px;top:2759.4px;width:0;height:0;border-left:21.4px solid #35807c;border-top:10.30px solid transparent;border-bottom:10.30px solid transparent"></div>
<div class="t" style="left:1692.0px;top:2770.0px;font-size:37.3px;"><b>Decision Rule:</b> If <i>E</i><span class="ss" style="top:-0.42em;font-size:70%">(≤<i>m</i>)</span> <span class="rel" style="width:0.778em;"><span style="transform:scaleX(1.2);">≥</span></span> <span class="g">α</span><span class="ss" style="top:-0.42em;font-size:70%">−1</span>, <b>reject</b> <i>H</i><span class="ss" style="top:0.22em;font-size:70%">0</span> and stop.</div>
<div class="t" style="left:2992.0px;top:548.0px;font-size:37.3px;"><b>Goal:</b> Ensure consistency so that, under the alternative,</div>
<div class="t" style="left:2992.0px;top:593.0px;font-size:37.3px;">the test eventually rejects with probability 1 (as the number</div>
<div class="t" style="left:2992.0px;top:637.5px;font-size:37.3px;">of batches tends to infinity).</div>
<div class="t" style="left:2992.0px;top:696.6px;font-size:37.3px;"><b>Modification:</b> Adjust the conditional E-variable to</div>
<div class="t" style="left:2992.0px;top:741.7px;font-size:37.3px;">incorporate a mixing parameter:</div>
<div class="t" style="left:3037.0px;top:896.5px;font-size:37.3px;"><i>E</i><span class="ss" style="top:0.22em;font-size:70%"><i>m</i></span></div>
<div class="t" style="left:3044.0px;top:876.0px;font-size:34px;">~</div>
<div class="t" style="left:3094.0px;top:896.5px;font-size:37.3px;"><span class="rel" style="width:0.778em;"><span style="transform:scaleX(1.3);">=</span></span></div>
<div class="t" style="left:3178.1px;top:891.1px;font-size:67.4px;font-family:'Liberation Serif';">∏</div>
<div class="t" style="left:3133.8px;top:949.0px;font-size:27.5px;">(<i>W</i><span class="ss" style="top:0.22em;font-size:70%"><i>i</i></span>,<i>C</i><span class="ss" style="top:0.22em;font-size:70%"><i>i</i></span>)<span class="rel" style="width:0.667em;"><span style="transform:scaleX(1.0);">є</span></span><i>D</i><span class="ss" style="top:0.22em;font-size:70%"><i>m</i></span></div>
<div class="t" style="left:3286.6px;top:844.4px;font-size:37.3px;"><span class="g">λ</span><span class="ss" style="top:0.22em;font-size:70%"><i>m</i></span></div>
<div class="t" style="left:3335.7px;top:844.4px;font-size:37.3px;"><i>p</i></div>
<div class="t" style="left:3354.5px;top:868.5px;font-size:28px;"><span class="g">θ</span></div>
<svg style="left:3357.3px;top:849.4px" width="10" height="7"><path d="M0.6,5.6 L4.5,1.2 L8.4,5.6" fill="none" stroke="#000" stroke-width="1.25"/></svg>
<div class="t" style="left:3369.6px;top:852.5px;font-size:26px;">(≤<i>m</i>)</div>
<div class="t" style="left:3370.0px;top:883.1px;font-size:24px;">0</div>
<div class="t" style="left:3426.2px;top:844.4px;font-size:37.3px;">(<i>C</i><span class="ss" style="top:0.22em;font-size:70%"><i>i</i></span>)</div>
<div class="t" style="left:3491.5px;top:844.4px;font-size:37.3px;">+</div>
<div class="t" style="left:3530.7px;top:844.4px;font-size:37.3px;">(1 − <span class="g">λ</span><span class="ss" style="top:0.22em;font-size:70%"><i>m</i></span>)</div>
<div class="t" style="left:3669.9px;top:844.4px;font-size:37.3px;"><i>p</i></div>
<div class="t" style="left:3688.7px;top:868.5px;font-size:28px;"><span class="g">θ</span></div>
<svg style="left:3691.5px;top:849.4px" width="10" height="7"><path d="M0.6,5.6 L4.5,1.2 L8.4,5.6" fill="none" stroke="#000" stroke-width="1.25"/></svg>
<div class="t" style="left:3703.8px;top:852.5px;font-size:26px;">(&lt;<i>m</i>)</div>
<div class="t" style="left:3704.2px;top:883.1px;font-size:24px;">1</div>
<div class="t" style="left:3762.2px;top:844.4px;font-size:37.3px;">(<i>C</i><span class="ss" style="top:0.22em;font-size:70%"><i>i</i></span> | <i>W</i><span class="ss" style="top:0.22em;font-size:70%"><i>i</i></span>)</div>
<div style="position:absolute;left:3286.4px;top:898.0px;width:608.4px;height:2.1px;background:#000;"></div>
<div class="t" style="left:3515.8px;top:921.7px;font-size:37.3px;"><i>p</i></div>
<div class="t" style="left:3534.6px;top:945.8px;font-size:28px;"><span class="g">θ</span></div>
<svg style="left:3537.4px;top:926.7px" width="10" height="7"><path d="M0.6,5.6 L4.5,1.2 L8.4,5.6" fill="none" stroke="#000" stroke-width="1.25"/></svg>
<div class="t" style="left:3549.7px;top:929.8px;font-size:26px;">(≤<i>m</i>)</div>
<div class="t" style="left:3550.1px;top:960.4px;font-size:24px;">0</div>
<div class="t" style="left:3606.3px;top:921.7px;font-size:37.3px;">(<i>C</i><span class="ss" style="top:0.22em;font-size:70%"><i>i</i></span>)</div>
<div class="t" style="left:3899.0px;top:896.5px;font-size:37.3px;">.</div>
<div class="t" style="left:2992.0px;top:1011.7px;font-size:37.3px;"><b>Parameter Selection:</b> Choose <span class="g">λ</span><span class="ss" style="top:0.22em;font-size:70%"><i>m</i></span> adaptively by solving</div>
<div class="t" style="left:3286.0px;top:1073.8px;font-size:37.3px;"><span class="g">λ</span><span class="ss" style="top:0.22em;font-size:70%"><i>m</i></span> <span class="rel" style="width:0.667em;"><span style="transform:scaleX(1.0);">є</span></span></div>
<div class="t" style="left:3370.0px;top:1073.8px;font-size:37.3px;"><span class="op">arg</span></div>
<div class="t" style="left:3435.5px;top:1073.8px;font-size:37.3px;"><span class="op">max</span></div>
<div class="t" style="left:3421.0px;top:1102.0px;font-size:27.5px;"><span class="g">λ</span><span class="rel" style="width:0.667em;"><span style="transform:scaleX(1.0);">є</span></span>(0,1)</div>
<div class="t" style="left:3515.4px;top:1073.8px;font-size:37.3px;"><span class="op">log</span></div>
<div class="t" style="left:3564.5px;top:1073.8px;font-size:37.3px;"><i>E</i><span class="ss" style="top:0.22em;font-size:70%"><i>m</i>−1</span>.</div>
<div class="t" style="left:3571.0px;top:1053.0px;font-size:34px;">~</div>
<div class="t" style="left:2992.0px;top:1341.3px;font-size:37.3px;">Experiments on Blob, MNIST, and KDEF show that</div>
<div class="t" style="left:2992.0px;top:1385.6px;font-size:37.3px;">E-C2ST:</div>
<div style="position:absolute;left:2988.5px;top:1436.9px;width:0;height:0;border-left:21.4px solid #35807c;border-top:10.30px solid transparent;border-bottom:10.30px solid transparent"></div>
<div class="t" style="left:3029.0px;top:1447.5px;font-size:37.3px;">Reaches maximum power faster than traditional</div>
<div class="t" style="left:3029.0px;top:1491.8px;font-size:37.3px;">methods.</div>
<div style="position:absolute;left:2988.5px;top:1525.7px;width:0;height:0;border-left:21.4px solid #35807c;border-top:10.30px solid transparent;border-bottom:10.30px solid transparent"></div>
<div class="t" style="left:3029.0px;top:1536.3px;font-size:37.3px;">Maintains the type I error below the significance level</div>
<div class="t" style="left:3029.0px;top:1580.6px;font-size:37.3px;">consistently.</div>
<svg style="left:0;top:0" width="4071" height="2880"><defs><clipPath id="cp0"><rect x="3034.4" y="1640.7" width="180.79999999999973" height="154.5999999999999"/></clipPath><clipPath id="cp1"><rect x="3251.1" y="1640.7" width="180.80000000000018" height="154.5999999999999"/></clipPath><clipPath id="cp2"><rect x="3468.1" y="1640.7" width="180.30000000000018" height="154.5999999999999"/></clipPath><clipPath id="cp3"><rect x="3684.4" y="1640.7" width="181.0999999999999" height="154.5999999999999"/></clipPath></defs><line x1="3034.4" y1="1783.30" x2="3215.2" y2="1783.30" stroke="#dddddd" stroke-width="1"/><line x1="3034.4" y1="1759.53" x2="3215.2" y2="1759.53" stroke="#dddddd" stroke-width="1"/><line x1="3034.4" y1="1735.76" x2="3215.2" y2="1735.76" stroke="#dddddd" stroke-width="1"/><line x1="3034.4" y1="1711.99" x2="3215.2" y2="1711.99" stroke="#dddddd" stroke-width="1"/><line x1="3034.4" y1="1688.22" x2="3215.2" y2="1688.22" stroke="#dddddd" stroke-width="1"/><line x1="3034.4" y1="1664.45" x2="3215.2" y2="1664.45" stroke="#dddddd" stroke-width="1"/><line x1="3034.4" y1="1640.68" x2="3215.2" y2="1640.68" stroke="#dddddd" stroke-width="1"/><line x1="3086.7" y1="1640.7" x2="3086.7" y2="1795.3" stroke="#dddddd" stroke-width="1"/><line x1="3157.5" y1="1640.7" x2="3157.5" y2="1795.3" stroke="#dddddd" stroke-width="1"/><rect x="3034.4" y="1640.7" width="180.80" height="154.60" fill="none" stroke="#cfcfcf" stroke-width="1"/><g clip-path="url(#cp0)"><polyline points="3042.70,1783.30 3060.90,1783.30 3079.10,1780.92 3097.30,1783.30 3115.50,1783.30 3133.70,1780.92 3151.90,1783.30 3170.10,1780.92 3188.30,1783.30 3206.50,1783.30" fill="none" stroke="#0173b2" stroke-width="1.6" stroke-linejoin="round"/><circle cx="3042.70" cy="1783.30" r="2.3" fill="#0173b2" stroke="#fff" stroke-width="0.5"/><circle cx="3060.90" cy="1783.30" r="2.3" fill="#0173b2" stroke="#fff" stroke-width="0.5"/><circle cx="3079.10" cy="1780.92" r="2.3" fill="#0173b2" stroke="#fff" stroke-width="0.5"/><circle cx="3097.30" cy="1783.30" r="2.3" fill="#0173b2" stroke="#fff" stroke-width="0.5"/><circle cx="3115.50" cy="1783.30" r="2.3" fill="#0173b2" stroke="#fff" stroke-width="0.5"/><circle cx="3133.70" cy="1780.92" r="2.3" fill="#0173b2" stroke="#fff" stroke-width="0.5"/><circle cx="3151.90" cy="1783.30" r="2.3" fill="#0173b2" stroke="#fff" stroke-width="0.5"/><circle cx="3170.10" cy="1780.92" r="2.3" fill="#0173b2" stroke="#fff" stroke-width="0.5"/><circle cx="3188.30" cy="1783.30" r="2.3" fill="#0173b2" stroke="#fff" stroke-width="0.5"/><circle cx="3206.50" cy="1783.30" r="2.3" fill="#0173b2" stroke="#fff" stroke-width="0.5"/><polyline points="3042.70,1780.92 3060.90,1772.60 3079.10,1750.02 3097.30,1763.10 3115.50,1770.23 3133.70,1778.55 3151.90,1778.55 3170.10,1772.60 3188.30,1777.36 3206.50,1770.23" fill="none" stroke="#d55e00" stroke-width="1.6" stroke-linejoin="round"/><circle cx="3042.70" cy="1780.92" r="2.3" fill="#d55e00" stroke="#fff" stroke-width="0.5"/><circle cx="3060.90" cy="1772.60" r="2.3" fill="#d55e00" stroke="#fff" stroke-width="0.5"/><circle cx="3079.10" cy="1750.02" r="2.3" fill="#d55e00" stroke="#fff" stroke-width="0.5"/><circle cx="3097.30" cy="1763.10" r="2.3" fill="#d55e00" stroke="#fff" stroke-width="0.5"/><circle cx="3115.50" cy="1770.23" r="2.3" fill="#d55e00" stroke="#fff" stroke-width="0.5"/><circle cx="3133.70" cy="1778.55" r="2.3" fill="#d55e00" stroke="#fff" stroke-width="0.5"/><circle cx="3151.90" cy="1778.55" r="2.3" fill="#d55e00" stroke="#fff" stroke-width="0.5"/><circle cx="3170.10" cy="1772.60" r="2.3" fill="#d55e00" stroke="#fff" stroke-width="0.5"/><circle cx="3188.30" cy="1777.36" r="2.3" fill="#d55e00" stroke="#fff" stroke-width="0.5"/><circle cx="3206.50" cy="1770.23" r="2.3" fill="#d55e00" stroke="#fff" stroke-width="0.5"/><polyline points="3042.70,1774.98 3060.90,1774.98 3079.10,1765.47 3097.30,1772.60 3115.50,1765.47 3133.70,1770.23 3151.90,1770.23 3170.10,1774.98 3188.30,1767.85 3206.50,1780.92" fill="none" stroke="#029e73" stroke-width="1.6" stroke-linejoin="round"/><circle cx="3042.70" cy="1774.98" r="2.3" fill="#029e73" stroke="#fff" stroke-width="0.5"/><circle cx="3060.90" cy="1774.98" r="2.3" fill="#029e73" stroke="#fff" stroke-width="0.5"/><circle cx="3079.10" cy="1765.47" r="2.3" fill="#029e73" stroke="#fff" stroke-width="0.5"/><circle cx="3097.30" cy="1772.60" r="2.3" fill="#029e73" stroke="#fff" stroke-width="0.5"/><circle cx="3115.50" cy="1765.47" r="2.3" fill="#029e73" stroke="#fff" stroke-width="0.5"/><circle cx="3133.70" cy="1770.23" r="2.3" fill="#029e73" stroke="#fff" stroke-width="0.5"/><circle cx="3151.90" cy="1770.23" r="2.3" fill="#029e73" stroke="#fff" stroke-width="0.5"/><circle cx="3170.10" cy="1774.98" r="2.3" fill="#029e73" stroke="#fff" stroke-width="0.5"/><circle cx="3188.30" cy="1767.85" r="2.3" fill="#029e73" stroke="#fff" stroke-width="0.5"/><circle cx="3206.50" cy="1780.92" r="2.3" fill="#029e73" stroke="#fff" stroke-width="0.5"/><polyline points="3042.70,1780.92 3060.90,1778.55 3079.10,1763.10 3097.30,1770.23 3115.50,1772.60 3133.70,1777.36 3151.90,1777.36 3170.10,1773.79 3188.30,1780.92 3206.50,1765.47" fill="none" stroke="#de8f05" stroke-width="1.6" stroke-linejoin="round"/><circle cx="3042.70" cy="1780.92" r="2.3" fill="#de8f05" stroke="#fff" stroke-width="0.5"/><circle cx="3060.90" cy="1778.55" r="2.3" fill="#de8f05" stroke="#fff" stroke-width="0.5"/><circle cx="3079.10" cy="1763.10" r="2.3" fill="#de8f05" stroke="#fff" stroke-width="0.5"/><circle cx="3097.30" cy="1770.23" r="2.3" fill="#de8f05" stroke="#fff" stroke-width="0.5"/><circle cx="3115.50" cy="1772.60" r="2.3" fill="#de8f05" stroke="#fff" stroke-width="0.5"/><circle cx="3133.70" cy="1777.36" r="2.3" fill="#de8f05" stroke="#fff" stroke-width="0.5"/><circle cx="3151.90" cy="1777.36" r="2.3" fill="#de8f05" stroke="#fff" stroke-width="0.5"/><circle cx="3170.10" cy="1773.79" r="2.3" fill="#de8f05" stroke="#fff" stroke-width="0.5"/><circle cx="3188.30" cy="1780.92" r="2.3" fill="#de8f05" stroke="#fff" stroke-width="0.5"/><circle cx="3206.50" cy="1765.47" r="2.3" fill="#de8f05" stroke="#fff" stroke-width="0.5"/></g><line x1="3251.1" y1="1788.30" x2="3431.9" y2="1788.30" stroke="#dddddd" stroke-width="1"/><line x1="3251.1" y1="1760.18" x2="3431.9" y2="1760.18" stroke="#dddddd" stroke-width="1"/><line x1="3251.1" y1="1732.06" x2="3431.9" y2="1732.06" stroke="#dddddd" stroke-width="1"/><line x1="3251.1" y1="1703.94" x2="3431.9" y2="1703.94" stroke="#dddddd" stroke-width="1"/><line x1="3251.1" y1="1675.82" x2="3431.9" y2="1675.82" stroke="#dddddd" stroke-width="1"/><line x1="3251.1" y1="1647.70" x2="3431.9" y2="1647.70" stroke="#dddddd" stroke-width="1"/><line x1="3287" y1="1640.7" x2="3287" y2="1795.3" stroke="#dddddd" stroke-width="1"/><line x1="3335.4" y1="1640.7" x2="3335.4" y2="1795.3" stroke="#dddddd" stroke-width="1"/><line x1="3383.3" y1="1640.7" x2="3383.3" y2="1795.3" stroke="#dddddd" stroke-width="1"/><rect x="3251.1" y="1640.7" width="180.80" height="154.60" fill="none" stroke="#cfcfcf" stroke-width="1"/><g clip-path="url(#cp1)"><polyline points="3257.20,1788.30 3269.60,1788.30 3282.00,1786.89 3294.40,1786.89 3306.80,1784.08 3319.20,1771.43 3331.60,1761.59 3344.00,1747.53 3356.40,1719.41 3368.80,1708.16 3381.20,1688.47 3393.60,1674.41 3406.00,1653.32 3418.40,1654.73 3430.80,1647.70" fill="none" stroke="#0173b2" stroke-width="1.6" stroke-linejoin="round"/><circle cx="3257.20" cy="1788.30" r="2.3" fill="#0173b2" stroke="#fff" stroke-width="0.5"/><circle cx="3269.60" cy="1788.30" r="2.3" fill="#0173b2" stroke="#fff" stroke-width="0.5"/><circle cx="3282.00" cy="1786.89" r="2.3" fill="#0173b2" stroke="#fff" stroke-width="0.5"/><circle cx="3294.40" cy="1786.89" r="2.3" fill="#0173b2" stroke="#fff" stroke-width="0.5"/><circle cx="3306.80" cy="1784.08" r="2.3" fill="#0173b2" stroke="#fff" stroke-width="0.5"/><circle cx="3319.20" cy="1771.43" r="2.3" fill="#0173b2" stroke="#fff" stroke-width="0.5"/><circle cx="3331.60" cy="1761.59" r="2.3" fill="#0173b2" stroke="#fff" stroke-width="0.5"/><circle cx="3344.00" cy="1747.53" r="2.3" fill="#0173b2" stroke="#fff" stroke-width="0.5"/><circle cx="3356.40" cy="1719.41" r="2.3" fill="#0173b2" stroke="#fff" stroke-width="0.5"/><circle cx="3368.80" cy="1708.16" r="2.3" fill="#0173b2" stroke="#fff" stroke-width="0.5"/><circle cx="3381.20" cy="1688.47" r="2.3" fill="#0173b2" stroke="#fff" stroke-width="0.5"/><circle cx="3393.60" cy="1674.41" r="2.3" fill="#0173b2" stroke="#fff" stroke-width="0.5"/><circle cx="3406.00" cy="1653.32" r="2.3" fill="#0173b2" stroke="#fff" stroke-width="0.5"/><circle cx="3418.40" cy="1654.73" r="2.3" fill="#0173b2" stroke="#fff" stroke-width="0.5"/><circle cx="3430.80" cy="1647.70" r="2.3" fill="#0173b2" stroke="#fff" stroke-width="0.5"/><polyline points="3257.20,1788.30 3269.60,1778.46 3282.00,1765.80 3294.40,1768.62 3306.80,1762.99 3319.20,1761.59 3331.60,1755.96 3344.00,1744.71 3356.40,1744.71 3368.80,1725.03 3381.20,1710.97 3393.60,1703.94 3406.00,1688.47 3418.40,1685.66 3430.80,1674.41" fill="none" stroke="#d55e00" stroke-width="1.6" stroke-linejoin="round"/><circle cx="3257.20" cy="1788.30" r="2.3" fill="#d55e00" stroke="#fff" stroke-width="0.5"/><circle cx="3269.60" cy="1778.46" r="2.3" fill="#d55e00" stroke="#fff" stroke-width="0.5"/><circle cx="3282.00" cy="1765.80" r="2.3" fill="#d55e00" stroke="#fff" stroke-width="0.5"/><circle cx="3294.40" cy="1768.62" r="2.3" fill="#d55e00" stroke="#fff" stroke-width="0.5"/><circle cx="3306.80" cy="1762.99" r="2.3" fill="#d55e00" stroke="#fff" stroke-width="0.5"/><circle cx="3319.20" cy="1761.59" r="2.3" fill="#d55e00" stroke="#fff" stroke-width="0.5"/><circle cx="3331.60" cy="1755.96" r="2.3" fill="#d55e00" stroke="#fff" stroke-width="0.5"/><circle cx="3344.00" cy="1744.71" r="2.3" fill="#d55e00" stroke="#fff" stroke-width="0.5"/><circle cx="3356.40" cy="1744.71" r="2.3" fill="#d55e00" stroke="#fff" stroke-width="0.5"/><circle cx="3368.80" cy="1725.03" r="2.3" fill="#d55e00" stroke="#fff" stroke-width="0.5"/><circle cx="3381.20" cy="1710.97" r="2.3" fill="#d55e00" stroke="#fff" stroke-width="0.5"/><circle cx="3393.60" cy="1703.94" r="2.3" fill="#d55e00" stroke="#fff" stroke-width="0.5"/><circle cx="3406.00" cy="1688.47" r="2.3" fill="#d55e00" stroke="#fff" stroke-width="0.5"/><circle cx="3418.40" cy="1685.66" r="2.3" fill="#d55e00" stroke="#fff" stroke-width="0.5"/><circle cx="3430.80" cy="1674.41" r="2.3" fill="#d55e00" stroke="#fff" stroke-width="0.5"/><polyline points="3257.20,1778.46 3269.60,1782.68 3282.00,1777.05 3294.40,1778.46 3306.80,1777.05 3319.20,1781.27 3331.60,1777.05 3344.00,1771.43 3356.40,1774.24 3368.80,1768.62 3381.20,1764.40 3393.60,1764.40 3406.00,1750.34 3418.40,1753.15 3430.80,1741.90" fill="none" stroke="#029e73" stroke-width="1.6" stroke-linejoin="round"/><circle cx="3257.20" cy="1778.46" r="2.3" fill="#029e73" stroke="#fff" stroke-width="0.5"/><circle cx="3269.60" cy="1782.68" r="2.3" fill="#029e73" stroke="#fff" stroke-width="0.5"/><circle cx="3282.00" cy="1777.05" r="2.3" fill="#029e73" stroke="#fff" stroke-width="0.5"/><circle cx="3294.40" cy="1778.46" r="2.3" fill="#029e73" stroke="#fff" stroke-width="0.5"/><circle cx="3306.80" cy="1777.05" r="2.3" fill="#029e73" stroke="#fff" stroke-width="0.5"/><circle cx="3319.20" cy="1781.27" r="2.3" fill="#029e73" stroke="#fff" stroke-width="0.5"/><circle cx="3331.60" cy="1777.05" r="2.3" fill="#029e73" stroke="#fff" stroke-width="0.5"/><circle cx="3344.00" cy="1771.43" r="2.3" fill="#029e73" stroke="#fff" stroke-width="0.5"/><circle cx="3356.40" cy="1774.24" r="2.3" fill="#029e73" stroke="#fff" stroke-width="0.5"/><circle cx="3368.80" cy="1768.62" r="2.3" fill="#029e73" stroke="#fff" stroke-width="0.5"/><circle cx="3381.20" cy="1764.40" r="2.3" fill="#029e73" stroke="#fff" stroke-width="0.5"/><circle cx="3393.60" cy="1764.40" r="2.3" fill="#029e73" stroke="#fff" stroke-width="0.5"/><circle cx="3406.00" cy="1750.34" r="2.3" fill="#029e73" stroke="#fff" stroke-width="0.5"/><circle cx="3418.40" cy="1753.15" r="2.3" fill="#029e73" stroke="#fff" stroke-width="0.5"/><circle cx="3430.80" cy="1741.90" r="2.3" fill="#029e73" stroke="#fff" stroke-width="0.5"/><polyline points="3257.20,1788.30 3269.60,1779.86 3282.00,1771.43 3294.40,1774.24 3306.80,1767.21 3319.20,1777.05 3331.60,1758.77 3344.00,1762.99 3356.40,1765.80 3368.80,1750.34 3381.20,1739.09 3393.60,1737.68 3406.00,1715.19 3418.40,1715.19 3430.80,1699.72" fill="none" stroke="#de8f05" stroke-width="1.6" stroke-linejoin="round"/><circle cx="3257.20" cy="1788.30" r="2.3" fill="#de8f05" stroke="#fff" stroke-width="0.5"/><circle cx="3269.60" cy="1779.86" r="2.3" fill="#de8f05" stroke="#fff" stroke-width="0.5"/><circle cx="3282.00" cy="1771.43" r="2.3" fill="#de8f05" stroke="#fff" stroke-width="0.5"/><circle cx="3294.40" cy="1774.24" r="2.3" fill="#de8f05" stroke="#fff" stroke-width="0.5"/><circle cx="3306.80" cy="1767.21" r="2.3" fill="#de8f05" stroke="#fff" stroke-width="0.5"/><circle cx="3319.20" cy="1777.05" r="2.3" fill="#de8f05" stroke="#fff" stroke-width="0.5"/><circle cx="3331.60" cy="1758.77" r="2.3" fill="#de8f05" stroke="#fff" stroke-width="0.5"/><circle cx="3344.00" cy="1762.99" r="2.3" fill="#de8f05" stroke="#fff" stroke-width="0.5"/><circle cx="3356.40" cy="1765.80" r="2.3" fill="#de8f05" stroke="#fff" stroke-width="0.5"/><circle cx="3368.80" cy="1750.34" r="2.3" fill="#de8f05" stroke="#fff" stroke-width="0.5"/><circle cx="3381.20" cy="1739.09" r="2.3" fill="#de8f05" stroke="#fff" stroke-width="0.5"/><circle cx="3393.60" cy="1737.68" r="2.3" fill="#de8f05" stroke="#fff" stroke-width="0.5"/><circle cx="3406.00" cy="1715.19" r="2.3" fill="#de8f05" stroke="#fff" stroke-width="0.5"/><circle cx="3418.40" cy="1715.19" r="2.3" fill="#de8f05" stroke="#fff" stroke-width="0.5"/><circle cx="3430.80" cy="1699.72" r="2.3" fill="#de8f05" stroke="#fff" stroke-width="0.5"/></g><line x1="3468.1" y1="1788.30" x2="3648.4" y2="1788.30" stroke="#dddddd" stroke-width="1"/><line x1="3468.1" y1="1760.18" x2="3648.4" y2="1760.18" stroke="#dddddd" stroke-width="1"/><line x1="3468.1" y1="1732.06" x2="3648.4" y2="1732.06" stroke="#dddddd" stroke-width="1"/><line x1="3468.1" y1="1703.94" x2="3648.4" y2="1703.94" stroke="#dddddd" stroke-width="1"/><line x1="3468.1" y1="1675.82" x2="3648.4" y2="1675.82" stroke="#dddddd" stroke-width="1"/><line x1="3468.1" y1="1647.70" x2="3648.4" y2="1647.70" stroke="#dddddd" stroke-width="1"/><line x1="3517.1" y1="1640.7" x2="3517.1" y2="1795.3" stroke="#dddddd" stroke-width="1"/><line x1="3582.4" y1="1640.7" x2="3582.4" y2="1795.3" stroke="#dddddd" stroke-width="1"/><rect x="3468.1" y="1640.7" width="180.30" height="154.60" fill="none" stroke="#cfcfcf" stroke-width="1"/><g clip-path="url(#cp2)"><polyline points="3476.20,1788.30 3493.10,1788.30 3510.00,1782.68 3526.90,1777.05 3543.80,1755.96 3560.70,1703.94 3577.60,1680.04 3594.50,1660.35 3611.40,1653.32 3628.30,1649.11 3645.20,1647.70 3662.10,1647.70" fill="none" stroke="#0173b2" stroke-width="1.6" stroke-linejoin="round"/><circle cx="3476.20" cy="1788.30" r="2.3" fill="#0173b2" stroke="#fff" stroke-width="0.5"/><circle cx="3493.10" cy="1788.30" r="2.3" fill="#0173b2" stroke="#fff" stroke-width="0.5"/><circle cx="3510.00" cy="1782.68" r="2.3" fill="#0173b2" stroke="#fff" stroke-width="0.5"/><circle cx="3526.90" cy="1777.05" r="2.3" fill="#0173b2" stroke="#fff" stroke-width="0.5"/><circle cx="3543.80" cy="1755.96" r="2.3" fill="#0173b2" stroke="#fff" stroke-width="0.5"/><circle cx="3560.70" cy="1703.94" r="2.3" fill="#0173b2" stroke="#fff" stroke-width="0.5"/><circle cx="3577.60" cy="1680.04" r="2.3" fill="#0173b2" stroke="#fff" stroke-width="0.5"/><circle cx="3594.50" cy="1660.35" r="2.3" fill="#0173b2" stroke="#fff" stroke-width="0.5"/><circle cx="3611.40" cy="1653.32" r="2.3" fill="#0173b2" stroke="#fff" stroke-width="0.5"/><circle cx="3628.30" cy="1649.11" r="2.3" fill="#0173b2" stroke="#fff" stroke-width="0.5"/><circle cx="3645.20" cy="1647.70" r="2.3" fill="#0173b2" stroke="#fff" stroke-width="0.5"/><circle cx="3662.10" cy="1647.70" r="2.3" fill="#0173b2" stroke="#fff" stroke-width="0.5"/><polyline points="3476.20,1784.08 3493.10,1776.35 3510.00,1751.74 3526.90,1748.93 3543.80,1729.25 3560.70,1726.44 3577.60,1709.56 3594.50,1682.85 3611.40,1684.26 3628.30,1660.35 3645.20,1658.95 3662.10,1654.73" fill="none" stroke="#d55e00" stroke-width="1.6" stroke-linejoin="round"/><circle cx="3476.20" cy="1784.08" r="2.3" fill="#d55e00" stroke="#fff" stroke-width="0.5"/><circle cx="3493.10" cy="1776.35" r="2.3" fill="#d55e00" stroke="#fff" stroke-width="0.5"/><circle cx="3510.00" cy="1751.74" r="2.3" fill="#d55e00" stroke="#fff" stroke-width="0.5"/><circle cx="3526.90" cy="1748.93" r="2.3" fill="#d55e00" stroke="#fff" stroke-width="0.5"/><circle cx="3543.80" cy="1729.25" r="2.3" fill="#d55e00" stroke="#fff" stroke-width="0.5"/><circle cx="3560.70" cy="1726.44" r="2.3" fill="#d55e00" stroke="#fff" stroke-width="0.5"/><circle cx="3577.60" cy="1709.56" r="2.3" fill="#d55e00" stroke="#fff" stroke-width="0.5"/><circle cx="3594.50" cy="1682.85" r="2.3" fill="#d55e00" stroke="#fff" stroke-width="0.5"/><circle cx="3611.40" cy="1684.26" r="2.3" fill="#d55e00" stroke="#fff" stroke-width="0.5"/><circle cx="3628.30" cy="1660.35" r="2.3" fill="#d55e00" stroke="#fff" stroke-width="0.5"/><circle cx="3645.20" cy="1658.95" r="2.3" fill="#d55e00" stroke="#fff" stroke-width="0.5"/><circle cx="3662.10" cy="1654.73" r="2.3" fill="#d55e00" stroke="#fff" stroke-width="0.5"/><polyline points="3476.20,1781.27 3493.10,1778.46 3510.00,1772.83 3526.90,1774.24 3543.80,1764.40 3560.70,1761.59 3577.60,1757.37 3594.50,1725.03 3611.40,1725.03 3628.30,1708.16 3645.20,1695.50 3662.10,1687.07" fill="none" stroke="#029e73" stroke-width="1.6" stroke-linejoin="round"/><circle cx="3476.20" cy="1781.27" r="2.3" fill="#029e73" stroke="#fff" stroke-width="0.5"/><circle cx="3493.10" cy="1778.46" r="2.3" fill="#029e73" stroke="#fff" stroke-width="0.5"/><circle cx="3510.00" cy="1772.83" r="2.3" fill="#029e73" stroke="#fff" stroke-width="0.5"/><circle cx="3526.90" cy="1774.24" r="2.3" fill="#029e73" stroke="#fff" stroke-width="0.5"/><circle cx="3543.80" cy="1764.40" r="2.3" fill="#029e73" stroke="#fff" stroke-width="0.5"/><circle cx="3560.70" cy="1761.59" r="2.3" fill="#029e73" stroke="#fff" stroke-width="0.5"/><circle cx="3577.60" cy="1757.37" r="2.3" fill="#029e73" stroke="#fff" stroke-width="0.5"/><circle cx="3594.50" cy="1725.03" r="2.3" fill="#029e73" stroke="#fff" stroke-width="0.5"/><circle cx="3611.40" cy="1725.03" r="2.3" fill="#029e73" stroke="#fff" stroke-width="0.5"/><circle cx="3628.30" cy="1708.16" r="2.3" fill="#029e73" stroke="#fff" stroke-width="0.5"/><circle cx="3645.20" cy="1695.50" r="2.3" fill="#029e73" stroke="#fff" stroke-width="0.5"/><circle cx="3662.10" cy="1687.07" r="2.3" fill="#029e73" stroke="#fff" stroke-width="0.5"/><polyline points="3476.20,1784.08 3493.10,1777.05 3510.00,1764.40 3526.90,1761.59 3543.80,1744.71 3560.70,1743.31 3577.60,1730.65 3594.50,1706.75 3611.40,1706.75 3628.30,1678.63 3645.20,1680.04 3662.10,1668.79" fill="none" stroke="#de8f05" stroke-width="1.6" stroke-linejoin="round"/><circle cx="3476.20" cy="1784.08" r="2.3" fill="#de8f05" stroke="#fff" stroke-width="0.5"/><circle cx="3493.10" cy="1777.05" r="2.3" fill="#de8f05" stroke="#fff" stroke-width="0.5"/><circle cx="3510.00" cy="1764.40" r="2.3" fill="#de8f05" stroke="#fff" stroke-width="0.5"/><circle cx="3526.90" cy="1761.59" r="2.3" fill="#de8f05" stroke="#fff" stroke-width="0.5"/><circle cx="3543.80" cy="1744.71" r="2.3" fill="#de8f05" stroke="#fff" stroke-width="0.5"/><circle cx="3560.70" cy="1743.31" r="2.3" fill="#de8f05" stroke="#fff" stroke-width="0.5"/><circle cx="3577.60" cy="1730.65" r="2.3" fill="#de8f05" stroke="#fff" stroke-width="0.5"/><circle cx="3594.50" cy="1706.75" r="2.3" fill="#de8f05" stroke="#fff" stroke-width="0.5"/><circle cx="3611.40" cy="1706.75" r="2.3" fill="#de8f05" stroke="#fff" stroke-width="0.5"/><circle cx="3628.30" cy="1678.63" r="2.3" fill="#de8f05" stroke="#fff" stroke-width="0.5"/><circle cx="3645.20" cy="1680.04" r="2.3" fill="#de8f05" stroke="#fff" stroke-width="0.5"/><circle cx="3662.10" cy="1668.79" r="2.3" fill="#de8f05" stroke="#fff" stroke-width="0.5"/></g><line x1="3684.4" y1="1788.30" x2="3865.5" y2="1788.30" stroke="#dddddd" stroke-width="1"/><line x1="3684.4" y1="1760.18" x2="3865.5" y2="1760.18" stroke="#dddddd" stroke-width="1"/><line x1="3684.4" y1="1732.06" x2="3865.5" y2="1732.06" stroke="#dddddd" stroke-width="1"/><line x1="3684.4" y1="1703.94" x2="3865.5" y2="1703.94" stroke="#dddddd" stroke-width="1"/><line x1="3684.4" y1="1675.82" x2="3865.5" y2="1675.82" stroke="#dddddd" stroke-width="1"/><line x1="3684.4" y1="1647.70" x2="3865.5" y2="1647.70" stroke="#dddddd" stroke-width="1"/><line x1="3699.4" y1="1640.7" x2="3699.4" y2="1795.3" stroke="#dddddd" stroke-width="1"/><line x1="3741" y1="1640.7" x2="3741" y2="1795.3" stroke="#dddddd" stroke-width="1"/><line x1="3782.4" y1="1640.7" x2="3782.4" y2="1795.3" stroke="#dddddd" stroke-width="1"/><line x1="3823.7" y1="1640.7" x2="3823.7" y2="1795.3" stroke="#dddddd" stroke-width="1"/><rect x="3684.4" y="1640.7" width="181.10" height="154.60" fill="none" stroke="#cfcfcf" stroke-width="1"/><g clip-path="url(#cp3)"><polyline points="3698.10,1788.30 3724.55,1788.30 3751.00,1753.15 3777.45,1687.07 3803.90,1654.73 3830.35,1647.70 3856.80,1647.70 3883.25,1647.70" fill="none" stroke="#0173b2" stroke-width="1.6" stroke-linejoin="round"/><circle cx="3698.10" cy="1788.30" r="2.3" fill="#0173b2" stroke="#fff" stroke-width="0.5"/><circle cx="3724.55" cy="1788.30" r="2.3" fill="#0173b2" stroke="#fff" stroke-width="0.5"/><circle cx="3751.00" cy="1753.15" r="2.3" fill="#0173b2" stroke="#fff" stroke-width="0.5"/><circle cx="3777.45" cy="1687.07" r="2.3" fill="#0173b2" stroke="#fff" stroke-width="0.5"/><circle cx="3803.90" cy="1654.73" r="2.3" fill="#0173b2" stroke="#fff" stroke-width="0.5"/><circle cx="3830.35" cy="1647.70" r="2.3" fill="#0173b2" stroke="#fff" stroke-width="0.5"/><circle cx="3856.80" cy="1647.70" r="2.3" fill="#0173b2" stroke="#fff" stroke-width="0.5"/><circle cx="3883.25" cy="1647.70" r="2.3" fill="#0173b2" stroke="#fff" stroke-width="0.5"/><polyline points="3698.10,1775.65 3724.55,1755.96 3751.00,1722.22 3777.45,1685.66 3803.90,1665.98 3830.35,1657.54 3856.80,1649.11 3883.25,1647.70" fill="none" stroke="#d55e00" stroke-width="1.6" stroke-linejoin="round"/><circle cx="3698.10" cy="1775.65" r="2.3" fill="#d55e00" stroke="#fff" stroke-width="0.5"/><circle cx="3724.55" cy="1755.96" r="2.3" fill="#d55e00" stroke="#fff" stroke-width="0.5"/><circle cx="3751.00" cy="1722.22" r="2.3" fill="#d55e00" stroke="#fff" stroke-width="0.5"/><circle cx="3777.45" cy="1685.66" r="2.3" fill="#d55e00" stroke="#fff" stroke-width="0.5"/><circle cx="3803.90" cy="1665.98" r="2.3" fill="#d55e00" stroke="#fff" stroke-width="0.5"/><circle cx="3830.35" cy="1657.54" r="2.3" fill="#d55e00" stroke="#fff" stroke-width="0.5"/><circle cx="3856.80" cy="1649.11" r="2.3" fill="#d55e00" stroke="#fff" stroke-width="0.5"/><circle cx="3883.25" cy="1647.70" r="2.3" fill="#d55e00" stroke="#fff" stroke-width="0.5"/><polyline points="3698.10,1776.35 3724.55,1774.24 3751.00,1750.34 3777.45,1723.62 3803.90,1694.10 3830.35,1674.41 3856.80,1668.79 3883.25,1660.35" fill="none" stroke="#029e73" stroke-width="1.6" stroke-linejoin="round"/><circle cx="3698.10" cy="1776.35" r="2.3" fill="#029e73" stroke="#fff" stroke-width="0.5"/><circle cx="3724.55" cy="1774.24" r="2.3" fill="#029e73" stroke="#fff" stroke-width="0.5"/><circle cx="3751.00" cy="1750.34" r="2.3" fill="#029e73" stroke="#fff" stroke-width="0.5"/><circle cx="3777.45" cy="1723.62" r="2.3" fill="#029e73" stroke="#fff" stroke-width="0.5"/><circle cx="3803.90" cy="1694.10" r="2.3" fill="#029e73" stroke="#fff" stroke-width="0.5"/><circle cx="3830.35" cy="1674.41" r="2.3" fill="#029e73" stroke="#fff" stroke-width="0.5"/><circle cx="3856.80" cy="1668.79" r="2.3" fill="#029e73" stroke="#fff" stroke-width="0.5"/><circle cx="3883.25" cy="1660.35" r="2.3" fill="#029e73" stroke="#fff" stroke-width="0.5"/><polyline points="3698.10,1781.97 3724.55,1771.43 3751.00,1743.31 3777.45,1718.00 3803.90,1689.88 3830.35,1671.60 3856.80,1658.95 3883.25,1651.92" fill="none" stroke="#de8f05" stroke-width="1.6" stroke-linejoin="round"/><circle cx="3698.10" cy="1781.97" r="2.3" fill="#de8f05" stroke="#fff" stroke-width="0.5"/><circle cx="3724.55" cy="1771.43" r="2.3" fill="#de8f05" stroke="#fff" stroke-width="0.5"/><circle cx="3751.00" cy="1743.31" r="2.3" fill="#de8f05" stroke="#fff" stroke-width="0.5"/><circle cx="3777.45" cy="1718.00" r="2.3" fill="#de8f05" stroke="#fff" stroke-width="0.5"/><circle cx="3803.90" cy="1689.88" r="2.3" fill="#de8f05" stroke="#fff" stroke-width="0.5"/><circle cx="3830.35" cy="1671.60" r="2.3" fill="#de8f05" stroke="#fff" stroke-width="0.5"/><circle cx="3856.80" cy="1658.95" r="2.3" fill="#de8f05" stroke="#fff" stroke-width="0.5"/><circle cx="3883.25" cy="1651.92" r="2.3" fill="#de8f05" stroke="#fff" stroke-width="0.5"/></g></svg>
<div class="t" style="left:25.9px;width:3000px;text-align:right;top:1783.6px;font-size:9.6px;font-family:'Liberation Serif';color:#333">0.0</div>
<div class="t" style="left:25.9px;width:3000px;text-align:right;top:1759.8px;font-size:9.6px;font-family:'Liberation Serif';color:#333">0.1</div>
<div class="t" style="left:25.9px;width:3000px;text-align:right;top:1736.1px;font-size:9.6px;font-family:'Liberation Serif';color:#333">0.2</div>
<div class="t" style="left:25.9px;width:3000px;text-align:right;top:1712.3px;font-size:9.6px;font-family:'Liberation Serif';color:#333">0.3</div>
<div class="t" style="left:25.9px;width:3000px;text-align:right;top:1688.5px;font-size:9.6px;font-family:'Liberation Serif';color:#333">0.4</div>
<div class="t" style="left:25.9px;width:3000px;text-align:right;top:1664.8px;font-size:9.6px;font-family:'Liberation Serif';color:#333">0.5</div>
<div class="t" style="left:25.9px;width:3000px;text-align:right;top:1641.0px;font-size:9.6px;font-family:'Liberation Serif';color:#333">0.6</div>
<div class="t" style="left:1586.7px;width:3000px;text-align:center;top:1808.6px;font-size:9.6px;font-family:'Liberation Serif';color:#333">500</div>
<div class="t" style="left:1657.5px;width:3000px;text-align:center;top:1808.6px;font-size:9.6px;font-family:'Liberation Serif';color:#333">1000</div>
<div class="t" style="left:1624.8px;width:3000px;text-align:center;top:1632.2px;font-size:9.6px;font-family:'Liberation Serif';color:#333"><i>p</i> = 0</div>
<div class="t" style="left:242.6px;width:3000px;text-align:right;top:1788.6px;font-size:9.6px;font-family:'Liberation Serif';color:#333">0.0</div>
<div class="t" style="left:242.6px;width:3000px;text-align:right;top:1760.5px;font-size:9.6px;font-family:'Liberation Serif';color:#333">0.2</div>
<div class="t" style="left:242.6px;width:3000px;text-align:right;top:1732.4px;font-size:9.6px;font-family:'Liberation Serif';color:#333">0.4</div>
<div class="t" style="left:242.6px;width:3000px;text-align:right;top:1704.2px;font-size:9.6px;font-family:'Liberation Serif';color:#333">0.6</div>
<div class="t" style="left:242.6px;width:3000px;text-align:right;top:1676.1px;font-size:9.6px;font-family:'Liberation Serif';color:#333">0.8</div>
<div class="t" style="left:242.6px;width:3000px;text-align:right;top:1648.0px;font-size:9.6px;font-family:'Liberation Serif';color:#333">1.0</div>
<div class="t" style="left:1787.0px;width:3000px;text-align:center;top:1808.6px;font-size:9.6px;font-family:'Liberation Serif';color:#333">500</div>
<div class="t" style="left:1835.4px;width:3000px;text-align:center;top:1808.6px;font-size:9.6px;font-family:'Liberation Serif';color:#333">1000</div>
<div class="t" style="left:1883.3px;width:3000px;text-align:center;top:1808.6px;font-size:9.6px;font-family:'Liberation Serif';color:#333">1500</div>
<div class="t" style="left:1931.2px;width:3000px;text-align:center;top:1808.6px;font-size:9.6px;font-family:'Liberation Serif';color:#333">2000</div>
<div class="t" style="left:1841.5px;width:3000px;text-align:center;top:1632.2px;font-size:9.6px;font-family:'Liberation Serif';color:#333"><i>p</i> = 0.5</div>
<div class="t" style="left:459.6px;width:3000px;text-align:right;top:1788.6px;font-size:9.6px;font-family:'Liberation Serif';color:#333">0.0</div>
<div class="t" style="left:459.6px;width:3000px;text-align:right;top:1760.5px;font-size:9.6px;font-family:'Liberation Serif';color:#333">0.2</div>
<div class="t" style="left:459.6px;width:3000px;text-align:right;top:1732.4px;font-size:9.6px;font-family:'Liberation Serif';color:#333">0.4</div>
<div class="t" style="left:459.6px;width:3000px;text-align:right;top:1704.2px;font-size:9.6px;font-family:'Liberation Serif';color:#333">0.6</div>
<div class="t" style="left:459.6px;width:3000px;text-align:right;top:1676.1px;font-size:9.6px;font-family:'Liberation Serif';color:#333">0.8</div>
<div class="t" style="left:459.6px;width:3000px;text-align:right;top:1648.0px;font-size:9.6px;font-family:'Liberation Serif';color:#333">1.0</div>
<div class="t" style="left:2017.1px;width:3000px;text-align:center;top:1808.6px;font-size:9.6px;font-family:'Liberation Serif';color:#333">500</div>
<div class="t" style="left:2082.4px;width:3000px;text-align:center;top:1808.6px;font-size:9.6px;font-family:'Liberation Serif';color:#333">1000</div>
<div class="t" style="left:2147.8px;width:3000px;text-align:center;top:1808.6px;font-size:9.6px;font-family:'Liberation Serif';color:#333">1500</div>
<div class="t" style="left:2058.2px;width:3000px;text-align:center;top:1632.2px;font-size:9.6px;font-family:'Liberation Serif';color:#333"><i>p</i> = 0.7</div>
<div class="t" style="left:675.9px;width:3000px;text-align:right;top:1788.6px;font-size:9.6px;font-family:'Liberation Serif';color:#333">0.0</div>
<div class="t" style="left:675.9px;width:3000px;text-align:right;top:1760.5px;font-size:9.6px;font-family:'Liberation Serif';color:#333">0.2</div>
<div class="t" style="left:675.9px;width:3000px;text-align:right;top:1732.4px;font-size:9.6px;font-family:'Liberation Serif';color:#333">0.4</div>
<div class="t" style="left:675.9px;width:3000px;text-align:right;top:1704.2px;font-size:9.6px;font-family:'Liberation Serif';color:#333">0.6</div>
<div class="t" style="left:675.9px;width:3000px;text-align:right;top:1676.1px;font-size:9.6px;font-family:'Liberation Serif';color:#333">0.8</div>
<div class="t" style="left:675.9px;width:3000px;text-align:right;top:1648.0px;font-size:9.6px;font-family:'Liberation Serif';color:#333">1.0</div>
<div class="t" style="left:2199.4px;width:3000px;text-align:center;top:1808.6px;font-size:9.6px;font-family:'Liberation Serif';color:#333">200</div>
<div class="t" style="left:2241.0px;width:3000px;text-align:center;top:1808.6px;font-size:9.6px;font-family:'Liberation Serif';color:#333">400</div>
<div class="t" style="left:2282.4px;width:3000px;text-align:center;top:1808.6px;font-size:9.6px;font-family:'Liberation Serif';color:#333">600</div>
<div class="t" style="left:2323.7px;width:3000px;text-align:center;top:1808.6px;font-size:9.6px;font-family:'Liberation Serif';color:#333">800</div>
<div class="t" style="left:2364.9px;width:3000px;text-align:center;top:1808.6px;font-size:9.6px;font-family:'Liberation Serif';color:#333">1000</div>
<div class="t" style="left:2274.9px;width:3000px;text-align:center;top:1632.2px;font-size:9.6px;font-family:'Liberation Serif';color:#333"><i>p</i> = 1</div>
<div class="t" style="left:3002.9px;top:1719px;font-size:10px;color:#333;transform:translate(-50%,0) rotate(-90deg);transform-origin:50% 0">Rejection Rate</div>
<div class="t" style="left:1936.0px;width:3000px;text-align:center;top:1822.8px;font-size:10px;color:#333">Samples</div>
<div style="position:absolute;left:3874.5px;top:1640.3px;width:73px;height:60.4px;border:1px solid #d6d6d6;border-radius:2.5px;background:#fff"></div>
<div class="t" style="left:3906.8px;top:1648.9px;font-size:9.8px;color:#333">E-C2ST</div>
<div class="t" style="left:3906.8px;top:1663.1px;font-size:9.8px;color:#333">L-C2ST</div>
<div class="t" style="left:3906.8px;top:1677.3px;font-size:9.8px;color:#333">M-C2ST</div>
<div class="t" style="left:3906.8px;top:1691.4px;font-size:9.8px;color:#333">S-C2ST</div>
<svg style="left:0;top:0" width="4071" height="2880"><line x1="3877.9" y1="1648.3" x2="3900" y2="1648.3" stroke="#0173b2" stroke-width="2.2" stroke-dasharray="6.5,1.5"/><circle cx="3888.8" cy="1648.3" r="2.5" fill="#0173b2"/><line x1="3877.9" y1="1662.5" x2="3900" y2="1662.5" stroke="#d55e00" stroke-width="2.2" stroke-dasharray="6.5,1.5"/><circle cx="3888.8" cy="1662.5" r="2.5" fill="#d55e00"/><line x1="3877.9" y1="1676.7" x2="3900" y2="1676.7" stroke="#029e73" stroke-width="2.2" stroke-dasharray="6.5,1.5"/><circle cx="3888.8" cy="1676.7" r="2.5" fill="#029e73"/><line x1="3877.9" y1="1690.8" x2="3900" y2="1690.8" stroke="#de8f05" stroke-width="2.2" stroke-dasharray="6.5,1.5"/><circle cx="3888.8" cy="1690.8" r="2.5" fill="#de8f05"/></svg>
<div class="t" style="left:2992.0px;top:1866.3px;font-size:37.3px;">Experimental Setup:</div>
<div style="position:absolute;left:2988.5px;top:1917.0px;width:0;height:0;border-left:21.4px solid #35807c;border-top:10.30px solid transparent;border-bottom:10.30px solid transparent"></div>
<div class="t" style="left:3029.0px;top:1927.6px;font-size:37.3px;">Two sets are compared: one with MNIST digits and one</div>
<div class="t" style="left:3029.0px;top:1972.6px;font-size:37.3px;">with a mix of real and DCGAN-generated images.</div>
<div style="position:absolute;left:2988.5px;top:2006.6px;width:0;height:0;border-left:21.4px solid #35807c;border-top:10.30px solid transparent;border-bottom:10.30px solid transparent"></div>
<div class="t" style="left:3029.0px;top:2017.2px;font-size:37.3px;">The proportion of corrupted images in mini-batches is</div>
<div class="t" style="left:3029.0px;top:2061.8px;font-size:37.3px;">varied with values of <i>p</i> <span class="rel" style="width:0.778em;"><span style="transform:scaleX(1.3);">=</span></span> 0, 0.5, 0.7, and 1.</div>
<div class="t" style="left:2992.5px;top:2294.5px;font-size:25.8px;">[1]</div>
<div class="t" style="left:3037.5px;top:2294.5px;font-size:25.8px;">S. Burkart and F. J. Király.</div>
<div class="t" style="left:3037.5px;top:2327.5px;font-size:25.8px;color:#6db5b2">Predictive Independence Testing, Predictive Conditional Independence</div>
<div class="t" style="left:3037.5px;top:2360.5px;font-size:25.8px;color:#6db5b2">Testing, and Predictive Graphical Modelling.</div>
<div class="t" style="left:3037.5px;top:2393.5px;font-size:25.8px;color:#70aba8"><i>arXiv preprint</i>, 2017.</div>
<div class="t" style="left:2992.5px;top:2438.6px;font-size:25.8px;">[2]</div>
<div class="t" style="left:3037.5px;top:2438.6px;font-size:25.8px;">P. Grünwald, R. de Heide, and W. M. Koolen.</div>
<div class="t" style="left:3037.5px;top:2471.6px;font-size:25.8px;color:#6db5b2">Safe testing.</div>
<div class="t" style="left:3037.5px;top:2504.6px;font-size:25.8px;color:#70aba8"><i>Journal of the Royal Statistical Society: Series B</i>, 2023.</div>
<div class="t" style="left:2992.5px;top:2549.0px;font-size:25.8px;">[3]</div>
<div class="t" style="left:3037.5px;top:2549.0px;font-size:25.8px;">A. Lhéritier and F. Cazals.</div>
<div class="t" style="left:3037.5px;top:2582.0px;font-size:25.8px;color:#6db5b2">A sequential non-parametric multivariate two-sample test.</div>
<div class="t" style="left:3037.5px;top:2615.0px;font-size:25.8px;color:#70aba8"><i>IEEE Transactions on Information Theory</i>, 64(5):3361–3370, 2018.</div>
<div class="t" style="left:2992.5px;top:2660.6px;font-size:25.8px;">[4]</div>
<div class="t" style="left:3037.5px;top:2660.6px;font-size:25.8px;">A. Ramdas, P. Grünwald, V. Vovk, and G. Shafer.</div>
<div class="t" style="left:3037.5px;top:2693.6px;font-size:25.8px;color:#6db5b2">Game-Theoretic Statistics and Safe Anytime-Valid Inference.</div>
<div class="t" style="left:3037.5px;top:2726.6px;font-size:25.8px;color:#70aba8"><i>Statistical Science</i>, 38(4):576 – 601, 2023.</div>
<div class="t" style="left:2992.5px;top:2771.0px;font-size:25.8px;">[5]</div>
<div class="t" style="left:3037.5px;top:2771.0px;font-size:25.8px;">L. Wasserman, A. Ramdas, and S. Balakrishnan.</div>
<div class="t" style="left:3037.5px;top:2804.0px;font-size:25.8px;color:#6db5b2">Universal Inference.</div>
<div class="t" style="left:3037.5px;top:2837.0px;font-size:25.8px;color:#70aba8"><i>Proceedings of the National Academy of Sciences</i>, 2020.</div>
</div></body></html>
